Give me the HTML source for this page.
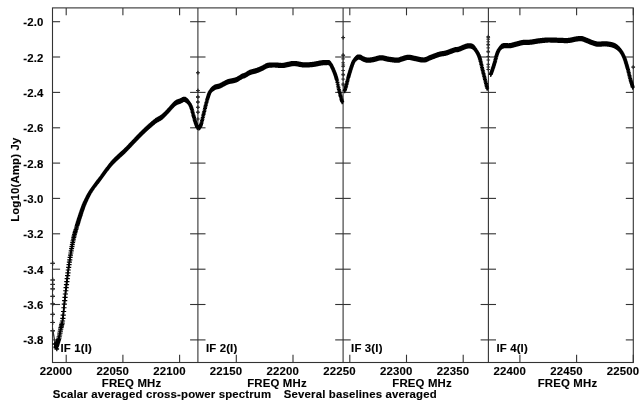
<!DOCTYPE html><html><head><meta charset="utf-8"><style>html,body{margin:0;padding:0;background:#fff;}svg{display:block;will-change:transform;}text{font-family:"Liberation Sans",sans-serif;font-weight:bold;fill:#000;stroke:#000;stroke-width:0.12px;letter-spacing:0.16px;}</style></head><body>
<svg width="639" height="405" viewBox="0 0 639 405">
<rect width="639" height="405" fill="#fff"/>
<g stroke="#333" stroke-width="1.10" fill="none"><rect x="52.5" y="7.9" width="580.8" height="354.6" fill="none"/><line x1="197.9" y1="7.9" x2="197.9" y2="362.5"/><line x1="343.1" y1="7.9" x2="343.1" y2="362.5"/><line x1="488.4" y1="7.9" x2="488.4" y2="362.5"/><line x1="66.2" y1="362.5" x2="66.2" y2="354.7"/><line x1="66.2" y1="7.9" x2="66.2" y2="15.3"/><line x1="122.9" y1="362.5" x2="122.9" y2="354.7"/><line x1="122.9" y1="7.9" x2="122.9" y2="15.3"/><line x1="179.6" y1="362.5" x2="179.6" y2="354.7"/><line x1="179.6" y1="7.9" x2="179.6" y2="15.3"/><line x1="236.3" y1="362.5" x2="236.3" y2="354.7"/><line x1="236.3" y1="7.9" x2="236.3" y2="15.3"/><line x1="293.0" y1="362.5" x2="293.0" y2="354.7"/><line x1="293.0" y1="7.9" x2="293.0" y2="15.3"/><line x1="349.8" y1="362.5" x2="349.8" y2="354.7"/><line x1="349.8" y1="7.9" x2="349.8" y2="15.3"/><line x1="406.5" y1="362.5" x2="406.5" y2="354.7"/><line x1="406.5" y1="7.9" x2="406.5" y2="15.3"/><line x1="463.2" y1="362.5" x2="463.2" y2="354.7"/><line x1="463.2" y1="7.9" x2="463.2" y2="15.3"/><line x1="519.9" y1="362.5" x2="519.9" y2="354.7"/><line x1="519.9" y1="7.9" x2="519.9" y2="15.3"/><line x1="576.6" y1="362.5" x2="576.6" y2="354.7"/><line x1="576.6" y1="7.9" x2="576.6" y2="15.3"/><line x1="633.3" y1="362.5" x2="633.3" y2="354.7"/><line x1="633.3" y1="7.9" x2="633.3" y2="15.3"/><line x1="52.5" y1="21.7" x2="60.1" y2="21.7"/><line x1="190.1" y1="21.7" x2="205.5" y2="21.7"/><line x1="335.2" y1="21.7" x2="350.7" y2="21.7"/><line x1="480.6" y1="21.7" x2="496.0" y2="21.7"/><line x1="625.8" y1="21.7" x2="633.2" y2="21.7"/><line x1="52.5" y1="57.0" x2="60.1" y2="57.0"/><line x1="190.1" y1="57.0" x2="205.5" y2="57.0"/><line x1="335.2" y1="57.0" x2="350.7" y2="57.0"/><line x1="480.6" y1="57.0" x2="496.0" y2="57.0"/><line x1="625.8" y1="57.0" x2="633.2" y2="57.0"/><line x1="52.5" y1="92.4" x2="60.1" y2="92.4"/><line x1="190.1" y1="92.4" x2="205.5" y2="92.4"/><line x1="335.2" y1="92.4" x2="350.7" y2="92.4"/><line x1="480.6" y1="92.4" x2="496.0" y2="92.4"/><line x1="625.8" y1="92.4" x2="633.2" y2="92.4"/><line x1="52.5" y1="127.8" x2="60.1" y2="127.8"/><line x1="190.1" y1="127.8" x2="205.5" y2="127.8"/><line x1="335.2" y1="127.8" x2="350.7" y2="127.8"/><line x1="480.6" y1="127.8" x2="496.0" y2="127.8"/><line x1="625.8" y1="127.8" x2="633.2" y2="127.8"/><line x1="52.5" y1="163.1" x2="60.1" y2="163.1"/><line x1="190.1" y1="163.1" x2="205.5" y2="163.1"/><line x1="335.2" y1="163.1" x2="350.7" y2="163.1"/><line x1="480.6" y1="163.1" x2="496.0" y2="163.1"/><line x1="625.8" y1="163.1" x2="633.2" y2="163.1"/><line x1="52.5" y1="198.4" x2="60.1" y2="198.4"/><line x1="190.1" y1="198.4" x2="205.5" y2="198.4"/><line x1="335.2" y1="198.4" x2="350.7" y2="198.4"/><line x1="480.6" y1="198.4" x2="496.0" y2="198.4"/><line x1="625.8" y1="198.4" x2="633.2" y2="198.4"/><line x1="52.5" y1="233.8" x2="60.1" y2="233.8"/><line x1="190.1" y1="233.8" x2="205.5" y2="233.8"/><line x1="335.2" y1="233.8" x2="350.7" y2="233.8"/><line x1="480.6" y1="233.8" x2="496.0" y2="233.8"/><line x1="625.8" y1="233.8" x2="633.2" y2="233.8"/><line x1="52.5" y1="269.2" x2="60.1" y2="269.2"/><line x1="190.1" y1="269.2" x2="205.5" y2="269.2"/><line x1="335.2" y1="269.2" x2="350.7" y2="269.2"/><line x1="480.6" y1="269.2" x2="496.0" y2="269.2"/><line x1="625.8" y1="269.2" x2="633.2" y2="269.2"/><line x1="52.5" y1="304.5" x2="60.1" y2="304.5"/><line x1="190.1" y1="304.5" x2="205.5" y2="304.5"/><line x1="335.2" y1="304.5" x2="350.7" y2="304.5"/><line x1="480.6" y1="304.5" x2="496.0" y2="304.5"/><line x1="625.8" y1="304.5" x2="633.2" y2="304.5"/><line x1="52.5" y1="339.9" x2="60.1" y2="339.9"/><line x1="190.1" y1="339.9" x2="205.5" y2="339.9"/><line x1="335.2" y1="339.9" x2="350.7" y2="339.9"/><line x1="480.6" y1="339.9" x2="496.0" y2="339.9"/><line x1="625.8" y1="339.9" x2="633.2" y2="339.9"/></g>
<path d="M53,331 L55.5,346" stroke="#333" stroke-width="1.3" fill="none"/>
<path d="M52.5,344h4.6M54.8,341.7v4.6M53.5,347.5h4.6M55.8,345.2v4.6M54.5,349h4.6M56.8,346.7v4.6" stroke="#000" stroke-width="1.3" fill="none"/>
<g stroke="#000" stroke-width="1.8" fill="none" stroke-linejoin="round" stroke-linecap="round"><path d="M56.00,347.70 C56.22,346.97 56.78,345.03 57.30,343.30 C57.82,341.57 58.52,339.75 59.10,337.30 C59.68,334.85 60.21,331.48 60.80,328.60 C61.39,325.72 62.03,324.38 62.65,320.00 C63.27,315.62 63.87,308.13 64.50,302.30 C65.13,296.47 65.63,291.68 66.45,285.00 C67.27,278.32 68.28,269.70 69.40,262.20 C70.53,254.70 72.05,245.65 73.20,240.00 C74.35,234.35 75.22,232.10 76.30,228.30 C77.38,224.50 78.58,220.68 79.70,217.20 C80.82,213.72 81.97,210.18 83.00,207.40 C84.03,204.62 84.73,202.97 85.90,200.50 C87.07,198.03 88.48,195.13 90.00,192.60 C91.52,190.07 93.33,187.58 95.00,185.30 C96.67,183.02 98.17,181.35 100.00,178.90 C101.83,176.45 104.00,173.25 106.00,170.60 C108.00,167.95 109.92,165.33 112.00,163.00 C114.08,160.67 116.33,158.67 118.50,156.60 C120.67,154.53 122.67,152.90 125.00,150.60 C127.33,148.30 130.00,145.40 132.50,142.80 C135.00,140.20 137.50,137.50 140.00,135.00 C142.50,132.50 144.92,130.13 147.50,127.80 C150.08,125.47 153.10,122.80 155.50,121.00 C157.90,119.20 159.83,118.65 161.90,117.00 C163.97,115.35 166.22,112.85 167.90,111.10 C169.58,109.35 170.67,107.88 172.00,106.50 C173.33,105.12 174.50,103.72 175.90,102.80 C177.30,101.88 178.97,101.58 180.40,101.00 C181.83,100.42 183.12,99.03 184.50,99.30 C185.88,99.57 187.57,101.22 188.70,102.60 C189.83,103.98 190.53,105.55 191.30,107.60 C192.07,109.65 192.62,112.47 193.30,114.90 C193.98,117.33 194.70,120.03 195.40,122.20 C196.10,124.37 197.15,126.95 197.50,127.90"/><path d="M198.60,128.20 C198.97,127.70 199.92,127.75 200.80,125.20 C201.68,122.65 202.87,117.02 203.90,112.90 C204.93,108.78 205.98,104.00 207.00,100.50 C208.02,97.00 208.77,94.05 210.00,91.90 C211.23,89.75 212.80,88.58 214.40,87.60 C216.00,86.62 218.02,86.63 219.60,86.00 C221.18,85.37 222.47,84.52 223.90,83.80 C225.33,83.08 226.77,82.20 228.20,81.70 C229.63,81.20 231.05,81.17 232.50,80.80 C233.95,80.43 235.32,80.23 236.90,79.50 C238.48,78.77 240.67,77.08 242.00,76.40 C243.33,75.72 243.58,76.05 244.90,75.40 C246.22,74.75 247.92,73.32 249.90,72.50 C251.88,71.68 254.67,71.25 256.80,70.50 C258.93,69.75 260.90,68.83 262.70,68.00 C264.50,67.17 265.62,66.00 267.60,65.50 C269.58,65.00 272.13,65.00 274.60,65.00 C277.07,65.00 280.27,65.57 282.40,65.50 C284.53,65.43 285.40,64.93 287.40,64.60 C289.40,64.27 291.67,63.45 294.40,63.50 C297.13,63.55 300.67,64.75 303.80,64.90 C306.93,65.05 310.38,64.72 313.20,64.40 C316.02,64.08 318.67,63.30 320.70,63.00 C322.73,62.70 323.93,62.60 325.40,62.60 C326.87,62.60 328.35,62.18 329.50,63.00 C330.65,63.82 331.38,65.67 332.30,67.50 C333.22,69.33 334.22,71.83 335.00,74.00 C335.78,76.17 336.33,77.83 337.00,80.50 C337.67,83.17 338.08,86.25 339.00,90.00 C339.92,93.75 341.92,100.83 342.50,103.00"/><path d="M344.60,91.00 C344.92,89.92 345.88,86.75 346.50,84.50 C347.12,82.25 347.50,80.33 348.30,77.50 C349.10,74.67 350.42,70.17 351.30,67.50 C352.18,64.83 352.77,63.05 353.60,61.50 C354.43,59.95 355.48,58.95 356.30,58.20 C357.12,57.45 357.72,57.10 358.50,57.00 C359.28,56.90 360.22,57.28 361.00,57.60 C361.78,57.92 362.10,58.47 363.20,58.90 C364.30,59.33 365.87,60.10 367.60,60.20 C369.33,60.30 371.37,59.90 373.60,59.50 C375.83,59.10 378.53,57.85 381.00,57.80 C383.47,57.75 385.68,58.80 388.40,59.20 C391.12,59.60 395.08,60.23 397.30,60.20 C399.52,60.17 399.87,59.48 401.70,59.00 C403.53,58.52 406.08,57.38 408.30,57.30 C410.52,57.22 412.40,58.05 415.00,58.50 C417.60,58.95 421.30,60.17 423.90,60.00 C426.50,59.83 428.02,58.45 430.60,57.50 C433.18,56.55 436.82,55.05 439.40,54.30 C441.98,53.55 443.50,53.75 446.10,53.00 C448.70,52.25 452.92,50.42 455.00,49.80 C457.08,49.18 456.55,49.93 458.60,49.30 C460.65,48.67 464.98,46.45 467.30,46.00 C469.62,45.55 471.05,45.85 472.50,46.60 C473.95,47.35 474.83,48.70 476.00,50.50 C477.17,52.30 478.35,53.95 479.50,57.40 C480.65,60.85 481.90,67.18 482.90,71.20 C483.90,75.22 484.75,78.48 485.50,81.50 C486.25,84.52 487.08,88.00 487.40,89.30"/><path d="M490.70,74.60 C491.27,72.93 492.98,68.20 494.10,64.60 C495.22,61.00 496.33,55.80 497.40,53.00 C498.47,50.20 499.43,49.02 500.50,47.80 C501.57,46.58 502.27,46.05 503.80,45.70 C505.33,45.35 507.73,45.93 509.70,45.70 C511.67,45.47 513.38,44.83 515.60,44.30 C517.82,43.77 520.53,42.85 523.00,42.50 C525.47,42.15 527.92,42.45 530.40,42.20 C532.88,41.95 535.42,41.33 537.90,41.00 C540.38,40.67 543.38,40.37 545.30,40.20 C547.22,40.03 547.15,39.98 549.40,40.00 C551.65,40.02 555.67,40.22 558.80,40.30 C561.93,40.38 565.38,40.70 568.20,40.50 C571.02,40.30 573.52,39.42 575.70,39.10 C577.88,38.78 579.43,38.37 581.30,38.60 C583.17,38.83 585.02,39.80 586.90,40.50 C588.78,41.20 590.72,42.18 592.60,42.80 C594.48,43.42 596.07,44.03 598.20,44.20 C600.33,44.37 602.77,43.58 605.40,43.80 C608.03,44.02 611.57,44.43 614.00,45.50 C616.43,46.57 618.28,48.15 620.00,50.20 C621.72,52.25 623.00,54.67 624.30,57.80 C625.60,60.93 626.82,65.53 627.80,69.00 C628.78,72.47 629.33,75.43 630.20,78.60 C631.07,81.77 632.53,86.43 633.00,88.00"/></g>
<path stroke="#000" stroke-width="1.2" fill="none" d="M53.72,346.62h5.2M56.32,344.02v5.2M54.08,345.39h5.2M56.68,342.79v5.2M54.44,344.16h5.2M57.04,341.56v5.2M54.81,342.95h5.2M57.41,340.35v5.2M55.17,341.81h5.2M57.77,339.21v5.2M55.53,340.70h5.2M58.13,338.10v5.2M55.90,339.53h5.2M58.50,336.93v5.2M56.26,338.25h5.2M58.86,335.65v5.2M56.62,336.76h5.2M59.22,334.16v5.2M56.99,335.01h5.2M59.59,332.41v5.2M57.35,333.09h5.2M59.95,330.49v5.2M57.72,331.11h5.2M60.32,328.51v5.2M58.08,329.20h5.2M60.68,326.60v5.2M58.44,327.51h5.2M61.04,324.91v5.2M58.81,326.06h5.2M61.41,323.46v5.2M59.17,324.65h5.2M61.77,322.05v5.2M59.53,323.04h5.2M62.13,320.44v5.2M59.90,321.02h5.2M62.50,318.42v5.2M60.26,318.39h5.2M62.86,315.79v5.2M60.62,315.14h5.2M63.22,312.54v5.2M60.99,311.51h5.2M63.59,308.91v5.2M61.35,307.74h5.2M63.95,305.14v5.2M61.71,304.07h5.2M64.31,301.47v5.2M62.08,300.66h5.2M64.68,298.06v5.2M62.44,297.30h5.2M65.04,294.70v5.2M62.80,293.99h5.2M65.40,291.39v5.2M63.17,290.76h5.2M65.77,288.16v5.2M63.53,287.65h5.2M66.13,285.05v5.2M63.89,284.63h5.2M66.49,282.03v5.2M64.26,281.64h5.2M66.86,279.04v5.2M64.63,278.65h5.2M67.22,276.05v5.2M65.00,275.70h5.2M67.59,273.10v5.2M65.37,272.81h5.2M67.95,270.21v5.2M65.74,269.99h5.1M68.31,267.39v5.2M66.12,267.28h5.1M68.68,264.68v5.2M66.49,264.67h5.1M69.04,262.07v5.2M66.86,262.18h5.1M69.40,259.58v5.2M67.23,259.80h5.1M69.77,257.20v5.2M67.60,257.47h5.0M70.13,254.87v5.2M67.98,255.20h5.0M70.49,252.60v5.2M68.35,252.99h5.0M70.86,250.39v5.2M68.72,250.82h5.0M71.22,248.22v5.2M69.09,248.70h5.0M71.58,246.10v5.2M69.47,246.64h5.0M71.95,244.04v5.2M69.84,244.63h4.9M72.31,242.03v5.2M70.21,242.68h4.9M72.67,240.08v5.2M70.58,240.81h4.9M73.04,238.21v5.2M70.95,239.03h4.9M73.40,236.43v5.2M71.33,237.39h4.9M73.76,234.79v5.2M71.70,235.88h4.9M74.13,233.28v5.2M72.07,234.48h4.8M74.49,231.88v5.2M72.44,233.18h4.8M74.86,230.58v5.2M72.82,231.94h4.8M75.22,229.34v5.2M73.19,230.73h4.8M75.58,228.13v5.2M73.56,229.52h4.8M75.95,226.92v5.2M73.93,228.27h4.8M76.31,225.67v5.2M74.30,227.01h4.7M76.67,224.41v5.2M74.68,225.77h4.7M77.04,223.17v5.2M75.05,224.56h4.7M77.40,221.96v5.2M75.42,223.36h4.7M77.76,220.76v5.2M75.79,222.18h4.7M78.13,219.58v5.2M76.17,221.01h4.6M78.49,218.41v5.2M76.54,219.86h4.6M78.85,217.26v5.2M76.91,218.71h4.6M79.22,216.11v5.2M77.28,217.57h4.6M79.58,214.97v5.2M77.65,216.44h4.6M79.94,213.84v5.2M78.03,215.31h4.6M80.31,212.71v5.2M78.40,214.19h4.5M80.67,211.59v5.2M78.77,213.08h4.5M81.03,210.48v5.2M79.14,211.99h4.5M81.40,209.39v5.2M79.52,210.91h4.5M81.76,208.31v5.2M79.89,209.85h4.5M82.13,207.25v5.2M80.26,208.81h4.5M82.49,206.21v5.2M80.63,207.80h4.4M82.85,205.20v5.2M81.00,206.82h4.4M83.22,204.22v5.2M81.38,205.87h4.4M83.58,203.27v5.2M81.75,204.95h4.4M83.94,202.35v5.2M82.12,204.06h4.4M84.31,201.46v5.2M82.49,203.20h4.4M84.67,200.60v5.2M82.87,202.38h4.3M85.03,199.78v5.2M83.24,201.58h4.3M85.40,198.98v5.2M83.61,200.80h4.3M85.76,198.20v5.2M83.98,200.03h4.3M86.12,197.43v5.2M84.35,199.27h4.3M86.49,196.67v5.2M84.73,198.52h4.2M86.85,195.92v5.2M85.10,197.78h4.2M87.21,195.18v5.2M85.47,197.05h4.2M87.58,194.45v5.2M85.84,196.34h4.2M87.94,193.74v5.2M86.22,195.64h4.2M88.30,193.04v5.2M86.59,194.95h4.2M88.67,192.35v5.2M86.96,194.29h4.1M89.03,191.69v5.2M87.33,193.64h4.1M89.40,191.04v5.2M87.70,193.01h4.1M89.76,190.41v5.2M88.08,192.40h4.1M90.12,189.80v5.2M88.45,191.81h4.1M90.49,189.21v5.2M88.82,191.23h4.1M90.85,188.63v5.2M89.19,190.67h4.0M91.21,188.07v5.2M89.57,190.12h4.0M91.58,187.52v5.2M89.94,189.59h4.0M91.94,186.99v5.2M90.30,189.06h4.0M92.30,186.46v5.2M90.67,188.54h4.0M92.67,185.94v5.2M91.03,188.02h4.0M93.03,185.42v5.2M91.39,187.51h4.0M93.39,184.91v5.2M91.76,187.01h4.0M93.76,184.41v5.2M92.12,186.51h4.0M94.12,183.91v5.2M92.48,186.01h4.0M94.48,183.41v5.2M92.85,185.51h4.0M94.85,182.91v5.2M93.21,185.01h4.0M95.21,182.41v5.2M93.57,184.53h4.0M95.57,181.93v5.2M93.94,184.05h4.0M95.94,181.45v5.2M94.30,183.59h4.0M96.30,180.99v5.2M94.67,183.13h4.0M96.67,180.53v5.2M95.03,182.67h4.0M97.03,180.07v5.2M95.39,182.22h4.0M97.39,179.62v5.2M95.76,181.77h4.0M97.76,179.17v5.2M96.12,181.32h4.0M98.12,178.72v5.2M96.48,180.86h4.0M98.48,178.26v5.2M96.85,180.40h4.0M98.85,177.80v5.2M97.21,179.94h4.0M99.21,177.34v5.2M97.57,179.46h4.0M99.57,176.86v5.2M97.94,178.98h4.0M99.94,176.38v5.2M98.30,178.50h4.0M100.30,175.90v5.2M98.66,178.00h4.0M100.66,175.40v5.2M99.03,177.50h4.0M101.03,174.90v5.2M99.39,177.00h4.0M101.39,174.40v5.2M99.75,176.49h4.0M101.75,173.89v5.2M100.12,175.98h4.0M102.12,173.38v5.2M100.48,175.47h4.0M102.48,172.87v5.2M100.84,174.96h4.0M102.84,172.36v5.2M101.21,174.44h4.0M103.21,171.84v5.2M101.57,173.93h4.0M103.57,171.33v5.2M101.94,173.42h4.0M103.94,170.82v5.2M102.30,172.92h4.0M104.30,170.32v5.2M102.66,172.41h4.0M104.66,169.81v5.2M103.03,171.91h4.0M105.03,169.31v5.2M103.39,171.42h4.0M105.39,168.82v5.2M103.75,170.93h4.0M105.75,168.33v5.2M104.12,170.45h4.0M106.12,167.85v5.2M104.48,169.96h4.0M106.48,167.36v5.2M104.84,169.48h4.0M106.84,166.88v5.2M105.21,169.00h4.0M107.21,166.40v5.2M105.57,168.51h4.0M107.57,165.91v5.2M105.93,168.03h4.0M107.93,165.43v5.2M106.30,167.56h4.0M108.30,164.96v5.2M106.66,167.08h4.0M108.66,164.48v5.2M107.02,166.61h4.0M109.02,164.01v5.2M107.39,166.14h4.0M109.39,163.54v5.2M107.75,165.68h4.0M109.75,163.08v5.2M108.11,165.23h4.0M110.11,162.63v5.2M108.48,164.78h4.0M110.48,162.18v5.2M108.84,164.34h4.0M110.84,161.74v5.2M109.21,163.91h4.0M111.21,161.31v5.2M109.57,163.49h4.0M111.57,160.89v5.2M109.93,163.08h4.0M111.93,160.48v5.2M110.30,162.67h4.0M112.30,160.07v5.2M110.66,162.28h4.0M112.66,159.68v5.2M111.02,161.89h4.0M113.02,159.29v5.2M111.39,161.52h4.0M113.39,158.92v5.2M111.75,161.14h4.0M113.75,158.54v5.2M112.11,160.78h4.0M114.11,158.18v5.2M112.48,160.42h4.0M114.48,157.82v5.2M112.84,160.07h4.0M114.84,157.47v5.2M113.20,159.71h4.0M115.20,157.11v5.2M113.57,159.37h4.0M115.57,156.77v5.2M113.93,159.02h4.0M115.93,156.42v5.2M114.29,158.68h4.0M116.29,156.08v5.2M114.66,158.34h4.0M116.66,155.74v5.2M115.02,158.00h4.0M117.02,155.40v5.2M115.38,157.65h4.0M117.38,155.05v5.2M115.75,157.31h4.0M117.75,154.71v5.2M116.11,156.97h4.0M118.11,154.37v5.2M116.48,156.62h4.0M118.48,154.02v5.2M116.84,156.28h4.0M118.84,153.68v5.2M117.20,155.94h4.0M119.20,153.34v5.2M117.57,155.60h4.0M119.57,153.00v5.2M117.93,155.27h4.0M119.93,152.67v5.2M118.29,154.94h4.0M120.29,152.34v5.2M118.66,154.61h4.0M120.66,152.01v5.2M119.02,154.29h4.0M121.02,151.69v5.2M119.38,153.96h4.0M121.38,151.36v5.2M119.75,153.63h4.0M121.75,151.03v5.2M120.11,153.31h4.0M122.11,150.71v5.2M120.47,152.98h4.0M122.47,150.38v5.2M120.84,152.65h4.0M122.84,150.05v5.2M121.20,152.31h4.0M123.20,149.71v5.2M121.56,151.98h4.0M123.56,149.38v5.2M121.93,151.63h4.0M123.93,149.03v5.2M122.29,151.29h4.0M124.29,148.69v5.2M122.65,150.94h4.0M124.65,148.34v5.2M123.02,150.58h4.0M125.02,147.98v5.2M123.38,150.22h4.0M125.38,147.62v5.2M123.75,149.86h4.0M125.75,147.26v5.2M124.11,149.49h4.0M126.11,146.89v5.2M124.47,149.12h4.0M126.47,146.52v5.2M124.84,148.74h4.0M126.84,146.14v5.2M125.20,148.37h4.0M127.20,145.77v5.2M125.56,147.99h4.0M127.56,145.39v5.2M125.93,147.61h4.0M127.93,145.01v5.2M126.29,147.23h4.0M128.29,144.63v5.2M126.65,146.85h4.0M128.65,144.25v5.2M127.02,146.47h4.0M129.02,143.87v5.2M127.38,146.08h4.0M129.38,143.48v5.2M127.74,145.70h4.0M129.74,143.10v5.2M128.11,145.31h4.0M130.11,142.71v5.2M128.47,144.93h4.0M130.47,142.33v5.2M128.83,144.55h4.0M130.83,141.95v5.2M129.20,144.16h4.0M131.20,141.56v5.2M129.56,143.78h4.0M131.56,141.18v5.2M129.92,143.40h4.0M131.92,140.80v5.2M130.29,143.02h4.0M132.29,140.42v5.2M130.65,142.64h4.0M132.65,140.04v5.2M131.02,142.26h4.0M133.02,139.66v5.2M131.38,141.88h4.0M133.38,139.28v5.2M131.74,141.50h4.0M133.74,138.90v5.2M132.11,141.12h4.0M134.11,138.52v5.2M132.47,140.74h4.0M134.47,138.14v5.2M132.83,140.35h4.0M134.83,137.75v5.2M133.20,139.97h4.0M135.20,137.37v5.2M133.56,139.59h4.0M135.56,136.99v5.2M133.92,139.21h4.0M135.92,136.61v5.2M134.29,138.82h4.0M136.29,136.22v5.2M134.65,138.44h4.0M136.65,135.84v5.2M135.01,138.06h4.0M137.01,135.46v5.2M135.38,137.68h4.0M137.38,135.08v5.2M135.74,137.31h4.0M137.74,134.71v5.2M136.10,136.93h4.0M138.10,134.33v5.2M136.47,136.55h4.0M138.47,133.95v5.2M136.83,136.18h4.0M138.83,133.58v5.2M137.19,135.81h4.0M139.19,133.21v5.2M137.56,135.44h4.0M139.56,132.84v5.2M137.92,135.08h4.0M139.92,132.48v5.2M138.29,134.72h4.0M140.29,132.12v5.2M138.65,134.35h4.0M140.65,131.75v5.2M139.01,133.99h4.0M141.01,131.39v5.2M139.38,133.63h4.0M141.38,131.03v5.2M139.74,133.27h4.0M141.74,130.67v5.2M140.10,132.91h4.0M142.10,130.31v5.2M140.47,132.56h4.0M142.47,129.96v5.2M140.83,132.20h4.0M142.83,129.60v5.2M141.19,131.85h4.0M143.19,129.25v5.2M141.56,131.49h4.0M143.56,128.89v5.2M141.92,131.14h4.0M143.92,128.54v5.2M142.28,130.79h4.0M144.28,128.19v5.2M142.65,130.45h4.0M144.65,127.85v5.2M143.01,130.10h4.0M145.01,127.50v5.2M143.37,129.76h4.0M145.37,127.16v5.2M143.74,129.42h4.0M145.74,126.82v5.2M144.10,129.08h4.0M146.10,126.48v5.2M144.46,128.75h4.0M146.46,126.15v5.2M144.83,128.41h4.0M146.83,125.81v5.2M145.19,128.08h4.0M147.19,125.48v5.2M145.56,127.75h4.0M147.56,125.15v5.2M145.92,127.42h4.0M147.92,124.82v5.2M146.28,127.10h4.0M148.28,124.50v5.2M146.65,126.77h4.0M148.65,124.17v5.2M147.01,126.44h4.0M149.01,123.84v5.2M147.37,126.12h4.0M149.37,123.52v5.2M147.74,125.80h4.0M149.74,123.20v5.2M148.10,125.48h4.0M150.10,122.88v5.2M148.46,125.16h4.0M150.46,122.56v5.2M148.83,124.84h4.0M150.83,122.24v5.2M149.19,124.53h4.0M151.19,121.93v5.2M149.55,124.21h4.0M151.55,121.61v5.2M149.92,123.90h4.0M151.92,121.30v5.2M150.28,123.59h4.0M152.28,120.99v5.2M150.64,123.29h4.0M152.64,120.69v5.2M151.01,122.98h4.0M153.01,120.38v5.2M151.37,122.68h4.0M153.37,120.08v5.2M151.73,122.39h4.0M153.73,119.79v5.2M152.10,122.09h4.0M154.10,119.49v5.2M152.46,121.80h4.0M154.46,119.20v5.2M152.83,121.52h4.0M154.83,118.92v5.2M153.19,121.24h4.0M155.19,118.64v5.2M153.55,120.96h4.0M155.55,118.36v5.2M153.92,120.70h4.0M155.92,118.10v5.2M154.28,120.45h4.0M156.28,117.85v5.2M154.64,120.21h4.0M156.64,117.61v5.2M155.01,119.98h4.0M157.01,117.38v5.2M155.37,119.76h4.0M157.37,117.16v5.2M155.73,119.55h4.0M157.73,116.95v5.2M156.10,119.34h4.0M158.10,116.74v5.2M156.46,119.14h4.0M158.46,116.54v5.2M156.82,118.94h4.0M158.82,116.34v5.2M157.19,118.75h4.0M159.19,116.15v5.2M157.55,118.54h4.0M159.55,115.94v5.2M157.91,118.34h4.0M159.91,115.74v5.2M158.28,118.12h4.0M160.28,115.52v5.2M158.64,117.90h4.0M160.64,115.30v5.2M159.00,117.66h4.0M161.00,115.06v5.2M159.37,117.40h4.0M161.37,114.80v5.2M159.73,117.13h4.0M161.73,114.53v5.2M160.10,116.84h4.0M162.10,114.24v5.2M160.46,116.54h4.0M162.46,113.94v5.2M160.82,116.22h4.0M162.82,113.62v5.2M161.19,115.89h4.0M163.19,113.29v5.2M161.55,115.56h4.0M163.55,112.96v5.2M161.91,115.21h4.0M163.91,112.61v5.2M162.28,114.86h4.0M164.28,112.26v5.2M162.64,114.50h4.0M164.64,111.90v5.2M163.00,114.13h4.0M165.00,111.53v5.2M163.37,113.76h4.0M165.37,111.16v5.2M163.73,113.38h4.0M165.73,110.78v5.2M164.09,113.00h4.0M166.09,110.40v5.2M164.46,112.62h4.0M166.46,110.02v5.2M164.82,112.23h4.0M166.82,109.63v5.2M165.18,111.85h4.0M167.18,109.25v5.2M165.55,111.47h4.0M167.55,108.87v5.2M165.91,111.09h4.0M167.91,108.49v5.2M166.27,110.70h4.0M168.27,108.10v5.2M166.64,110.31h4.0M168.64,107.71v5.2M167.00,109.91h4.0M169.00,107.31v5.2M167.37,109.49h4.0M169.37,106.89v5.2M167.73,109.07h4.0M169.73,106.47v5.2M168.09,108.65h4.0M170.09,106.05v5.2M168.46,108.22h4.0M170.46,105.62v5.2M168.82,107.80h4.0M170.82,105.20v5.2M169.18,107.39h4.0M171.18,104.79v5.2M169.55,106.98h4.0M171.55,104.38v5.2M169.91,106.59h4.0M171.91,103.99v5.2M170.27,106.21h4.0M172.27,103.61v5.2M170.64,105.83h4.0M172.64,103.23v5.2M171.00,105.44h4.0M173.00,102.84v5.2M171.36,105.05h4.0M173.36,102.45v5.2M171.73,104.68h4.0M173.73,102.08v5.2M172.09,104.31h4.0M174.09,101.71v5.2M172.45,103.96h4.0M174.45,101.36v5.2M172.82,103.63h4.0M174.82,101.03v5.2M173.18,103.33h4.0M175.18,100.73v5.2M173.54,103.05h4.0M175.54,100.45v5.2M173.91,102.79h4.0M175.91,100.19v5.2M174.27,102.57h4.0M176.27,99.97v5.2M174.64,102.38h4.0M176.64,99.78v5.2M175.00,102.21h4.0M177.00,99.61v5.2M175.36,102.06h4.0M177.36,99.46v5.2M175.73,101.92h4.0M177.73,99.32v5.2M176.09,101.79h4.0M178.09,99.19v5.2M176.45,101.67h4.0M178.45,99.07v5.2M176.82,101.55h4.0M178.82,98.95v5.2M177.18,101.43h4.0M179.18,98.83v5.2M177.54,101.31h4.0M179.54,98.71v5.2M177.91,101.19h4.0M179.91,98.59v5.2M178.27,101.05h4.0M180.27,98.45v5.2M178.63,100.90h4.0M180.63,98.30v5.2M179.00,100.71h4.0M181.00,98.11v5.2M179.36,100.50h4.0M181.36,97.90v5.2M179.72,100.28h4.0M181.72,97.68v5.2M180.09,100.06h4.0M182.09,97.46v5.2M180.45,99.84h4.0M182.45,97.24v5.2M180.81,99.64h4.0M182.81,97.04v5.2M181.18,99.48h4.0M183.18,96.88v5.2M181.54,99.35h4.0M183.54,96.75v5.2M181.91,99.28h4.0M183.91,96.68v5.2M182.27,99.27h4.0M184.27,96.67v5.2M182.63,99.33h4.0M184.63,96.73v5.2M183.00,99.45h4.0M185.00,96.85v5.2M183.36,99.61h4.0M185.36,97.01v5.2M183.72,99.82h4.0M185.72,97.22v5.2M184.09,100.06h4.0M186.09,97.46v5.2M184.45,100.33h4.0M186.45,97.73v5.2M184.81,100.63h4.0M186.81,98.03v5.2M185.18,100.96h4.0M187.18,98.36v5.2M185.54,101.31h4.0M187.54,98.71v5.2M185.90,101.69h4.0M187.90,99.09v5.2M186.27,102.09h4.0M188.27,99.49v5.2M186.63,102.52h4.0M188.63,99.92v5.2M186.99,102.98h4.0M188.99,100.38v5.2M187.36,103.49h4.0M189.36,100.89v5.2M187.72,104.08h4.0M189.72,101.48v5.2M188.08,104.75h4.0M190.08,102.15v5.2M188.45,105.50h4.0M190.45,102.90v5.2M188.81,106.35h4.0M190.81,103.75v5.2M189.18,107.27h4.0M191.18,104.67v5.2M189.54,108.28h4.0M191.54,105.68v5.2M189.90,109.48h4.0M191.90,106.88v5.2M190.27,110.85h4.0M192.27,108.25v5.2M190.63,112.30h4.0M192.63,109.70v5.2M190.99,113.75h4.0M192.99,111.15v5.2M191.36,115.10h4.0M193.36,112.50v5.2M191.72,116.41h4.0M193.72,113.81v5.2M192.08,117.72h4.0M194.08,115.12v5.2M192.45,119.01h4.0M194.45,116.41v5.2M192.81,120.28h4.0M194.81,117.68v5.2M193.17,121.48h4.0M195.17,118.88v5.2M193.54,122.62h4.0M195.54,120.02v5.2M193.90,123.67h4.0M195.90,121.07v5.2M194.26,124.66h4.0M196.26,122.06v5.2M194.63,125.63h4.0M196.63,123.03v5.2M194.99,126.57h4.0M196.99,123.97v5.2M195.35,127.52h4.0M197.35,124.92v5.2M196.81,128.00h4.0M198.81,125.40v5.2M197.17,127.74h4.0M199.17,125.14v5.2M197.53,127.44h4.0M199.53,124.84v5.2M197.90,127.03h4.0M199.90,124.43v5.2M198.26,126.46h4.0M200.26,123.86v5.2M198.62,125.67h4.0M200.62,123.07v5.2M198.98,124.63h4.0M200.98,122.03v5.2M199.35,123.39h4.0M201.35,120.79v5.2M199.71,122.01h4.0M201.71,119.41v5.2M200.07,120.55h4.0M202.07,117.95v5.2M200.44,119.04h4.0M202.44,116.44v5.2M200.80,117.50h4.0M202.80,114.90v5.2M201.16,115.96h4.0M203.16,113.36v5.2M201.52,114.43h4.0M203.52,111.83v5.2M201.89,112.95h4.0M203.89,110.35v5.2M202.25,111.48h4.0M204.25,108.88v5.2M202.61,109.98h4.0M204.61,107.38v5.2M202.98,108.47h4.0M204.98,105.87v5.2M203.34,106.96h4.0M205.34,104.36v5.2M203.70,105.46h4.0M205.70,102.86v5.2M204.06,103.99h4.0M206.06,101.39v5.2M204.43,102.58h4.0M206.43,99.98v5.2M204.79,101.24h4.0M206.79,98.64v5.2M205.15,99.97h4.0M207.15,97.37v5.2M205.52,98.70h4.0M207.52,96.10v5.2M205.88,97.45h4.0M207.88,94.85v5.2M206.24,96.25h4.0M208.24,93.65v5.2M206.60,95.14h4.0M208.60,92.54v5.2M206.97,94.13h4.0M208.97,91.53v5.2M207.33,93.24h4.0M209.33,90.64v5.2M207.69,92.47h4.0M209.69,89.87v5.2M208.06,91.81h4.0M210.06,89.21v5.2M208.42,91.23h4.0M210.42,88.63v5.2M208.78,90.72h4.0M210.78,88.12v5.2M209.14,90.27h4.0M211.14,87.67v5.2M209.51,89.86h4.0M211.51,87.26v5.2M209.87,89.49h4.0M211.87,86.89v5.2M210.23,89.16h4.0M212.23,86.56v5.2M210.60,88.85h4.0M212.60,86.25v5.2M210.96,88.57h4.0M212.96,85.97v5.2M211.32,88.31h4.0M213.32,85.71v5.2M211.69,88.06h4.0M213.69,85.46v5.2M212.05,87.82h4.0M214.05,85.22v5.2M212.41,87.59h4.0M214.41,84.99v5.2M212.77,87.39h4.0M214.77,84.79v5.2M213.14,87.22h4.0M215.14,84.62v5.2M213.50,87.08h4.0M215.50,84.48v5.2M213.86,86.96h4.0M215.86,84.36v5.2M214.23,86.86h4.0M216.23,84.26v5.2M214.59,86.77h4.0M216.59,84.17v5.2M214.95,86.68h4.0M216.95,84.08v5.2M215.31,86.60h4.0M217.31,84.00v5.2M215.68,86.53h4.0M217.68,83.93v5.2M216.04,86.45h4.0M218.04,83.85v5.2M216.40,86.36h4.0M218.40,83.76v5.2M216.77,86.27h4.0M218.77,83.67v5.2M217.13,86.17h4.0M219.13,83.57v5.2M217.49,86.04h4.0M219.49,83.44v5.2M217.85,85.90h4.0M219.85,83.30v5.2M218.22,85.74h4.0M220.22,83.14v5.2M218.58,85.57h4.0M220.58,82.97v5.2M218.94,85.39h4.0M220.94,82.79v5.2M219.31,85.20h4.0M221.31,82.60v5.2M219.67,85.01h4.0M221.67,82.41v5.2M220.03,84.81h4.0M222.03,82.21v5.2M220.39,84.61h4.0M222.39,82.01v5.2M220.76,84.41h4.0M222.76,81.81v5.2M221.12,84.21h4.0M223.12,81.61v5.2M221.48,84.01h4.0M223.48,81.41v5.2M221.85,83.83h4.0M223.85,81.23v5.2M222.21,83.64h4.0M224.21,81.04v5.2M222.57,83.45h4.0M224.57,80.85v5.2M222.93,83.26h4.0M224.93,80.66v5.2M223.30,83.07h4.0M225.30,80.47v5.2M223.66,82.87h4.0M225.66,80.27v5.2M224.02,82.68h4.0M226.02,80.08v5.2M224.39,82.50h4.0M226.39,79.90v5.2M224.75,82.32h4.0M226.75,79.72v5.2M225.11,82.14h4.0M227.11,79.54v5.2M225.47,81.98h4.0M227.47,79.38v5.2M225.84,81.83h4.0M227.84,79.23v5.2M226.20,81.70h4.0M228.20,79.10v5.2M226.56,81.58h4.0M228.56,78.98v5.2M226.93,81.48h4.0M228.93,78.88v5.2M227.29,81.40h4.0M229.29,78.80v5.2M227.65,81.32h4.0M229.65,78.72v5.2M228.01,81.26h4.0M230.01,78.66v5.2M228.38,81.19h4.0M230.38,78.59v5.2M228.74,81.14h4.0M230.74,78.54v5.2M229.10,81.08h4.0M231.10,78.48v5.2M229.47,81.02h4.0M231.47,78.42v5.2M229.83,80.95h4.0M231.83,78.35v5.2M230.19,80.87h4.0M232.19,78.27v5.2M230.55,80.79h4.0M232.55,78.19v5.2M230.92,80.70h4.0M232.92,78.10v5.2M231.28,80.61h4.0M233.28,78.01v5.2M231.64,80.53h4.0M233.64,77.93v5.2M232.01,80.45h4.0M234.01,77.85v5.2M232.37,80.36h4.0M234.37,77.76v5.2M232.73,80.27h4.0M234.73,77.67v5.2M233.09,80.17h4.0M235.09,77.57v5.2M233.46,80.06h4.0M235.46,77.46v5.2M233.82,79.94h4.0M235.82,77.34v5.2M234.18,79.80h4.0M236.18,77.20v5.2M234.55,79.66h4.0M236.55,77.06v5.2M234.91,79.50h4.0M236.91,76.90v5.2M235.27,79.32h4.0M237.27,76.72v5.2M235.63,79.12h4.0M237.63,76.52v5.2M236.00,78.91h4.0M238.00,76.31v5.2M236.36,78.69h4.0M238.36,76.09v5.2M236.72,78.46h4.0M238.72,75.86v5.2M237.09,78.23h4.0M239.09,75.63v5.2M237.45,77.99h4.0M239.45,75.39v5.2M237.81,77.75h4.0M239.81,75.15v5.2M238.17,77.52h4.0M240.17,74.92v5.2M238.54,77.28h4.0M240.54,74.68v5.2M238.90,77.05h4.0M240.90,74.45v5.2M239.26,76.82h4.0M241.26,74.22v5.2M239.63,76.60h4.0M241.63,74.00v5.2M239.99,76.41h4.0M241.99,73.81v5.2M240.35,76.23h4.0M242.35,73.63v5.2M240.72,76.09h4.0M242.72,73.49v5.2M241.08,75.97h4.0M243.08,73.37v5.2M241.44,75.89h4.0M243.44,73.29v5.2M241.80,75.81h4.0M243.80,73.21v5.2M242.17,75.71h4.0M244.17,73.11v5.2M242.53,75.57h4.0M244.53,72.97v5.2M242.89,75.40h4.0M244.89,72.80v5.2M243.26,75.21h4.0M245.26,72.61v5.2M243.62,75.00h4.0M245.62,72.40v5.2M243.98,74.77h4.0M245.98,72.17v5.2M244.34,74.54h4.0M246.34,71.94v5.2M244.71,74.30h4.0M246.71,71.70v5.2M245.07,74.06h4.0M247.07,71.46v5.2M245.43,73.83h4.0M247.43,71.23v5.2M245.80,73.60h4.0M247.80,71.00v5.2M246.16,73.39h4.0M248.16,70.79v5.2M246.52,73.18h4.0M248.52,70.58v5.2M246.88,72.98h4.0M248.88,70.38v5.2M247.25,72.80h4.0M249.25,70.20v5.2M247.61,72.62h4.0M249.61,70.02v5.2M247.97,72.47h4.0M249.97,69.87v5.2M248.34,72.33h4.0M250.34,69.73v5.2M248.70,72.20h4.0M250.70,69.60v5.2M249.06,72.09h4.0M251.06,69.49v5.2M249.42,71.98h4.0M251.42,69.38v5.2M249.79,71.87h4.0M251.79,69.27v5.2M250.15,71.77h4.0M252.15,69.17v5.2M250.51,71.67h4.0M252.51,69.07v5.2M250.88,71.58h4.0M252.88,68.98v5.2M251.24,71.49h4.0M253.24,68.89v5.2M251.60,71.40h4.0M253.60,68.80v5.2M251.96,71.31h4.0M253.96,68.71v5.2M252.33,71.22h4.0M254.33,68.62v5.2M252.69,71.12h4.0M254.69,68.52v5.2M253.05,71.03h4.0M255.05,68.43v5.2M253.42,70.93h4.0M255.42,68.33v5.2M253.78,70.82h4.0M255.78,68.22v5.2M254.14,70.72h4.0M256.14,68.12v5.2M254.50,70.60h4.0M256.50,68.00v5.2M254.87,70.48h4.0M256.87,67.88v5.2M255.23,70.35h4.0M257.23,67.75v5.2M255.59,70.21h4.0M257.59,67.61v5.2M255.96,70.07h4.0M257.96,67.47v5.2M256.32,69.93h4.0M258.32,67.33v5.2M256.68,69.78h4.0M258.68,67.18v5.2M257.04,69.63h4.0M259.04,67.03v5.2M257.41,69.48h4.0M259.41,66.88v5.2M257.77,69.33h4.0M259.77,66.73v5.2M258.13,69.17h4.0M260.13,66.57v5.2M258.50,69.01h4.0M260.50,66.41v5.2M258.86,68.85h4.0M260.86,66.25v5.2M259.22,68.68h4.0M261.22,66.08v5.2M259.58,68.52h4.0M261.58,65.92v5.2M259.95,68.35h4.0M261.95,65.75v5.2M260.31,68.18h4.0M262.31,65.58v5.2M260.67,68.01h4.0M262.67,65.41v5.2M261.04,67.84h4.0M263.04,65.24v5.2M261.40,67.64h4.0M263.40,65.04v5.2M261.76,67.44h4.0M263.76,64.84v5.2M262.12,67.22h4.0M264.12,64.62v5.2M262.49,66.99h4.0M264.49,64.39v5.2M262.85,66.77h4.0M264.85,64.17v5.2M263.21,66.55h4.0M265.21,63.95v5.2M263.58,66.33h4.0M265.58,63.73v5.2M263.94,66.14h4.0M265.94,63.54v5.2M264.30,65.96h4.0M266.30,63.36v5.2M264.66,65.81h4.0M266.66,63.21v5.2M265.03,65.67h4.0M267.03,63.07v5.2M265.39,65.56h4.0M267.39,62.96v5.2M265.75,65.46h4.0M267.75,62.86v5.2M266.12,65.38h4.0M268.12,62.78v5.2M266.48,65.32h4.0M268.48,62.72v5.2M266.84,65.26h4.0M268.84,62.66v5.2M267.20,65.21h4.0M269.20,62.61v5.2M267.57,65.17h4.0M269.57,62.57v5.2M267.93,65.13h4.0M269.93,62.53v5.2M268.29,65.10h4.0M270.29,62.50v5.2M268.66,65.08h4.0M270.66,62.48v5.2M269.02,65.06h4.0M271.02,62.46v5.2M269.38,65.04h4.0M271.38,62.44v5.2M269.75,65.03h4.0M271.75,62.43v5.2M270.11,65.02h4.0M272.11,62.42v5.2M270.47,65.01h4.0M272.47,62.41v5.2M270.83,65.01h4.0M272.83,62.41v5.2M271.20,65.00h4.0M273.20,62.40v5.2M271.56,65.00h4.0M273.56,62.40v5.2M271.92,65.00h4.0M273.92,62.40v5.2M272.29,65.00h4.0M274.29,62.40v5.2M272.65,65.00h4.0M274.65,62.40v5.2M273.01,65.01h4.0M275.01,62.41v5.2M273.37,65.02h4.0M275.37,62.42v5.2M273.74,65.03h4.0M275.74,62.43v5.2M274.10,65.06h4.0M276.10,62.46v5.2M274.46,65.08h4.0M276.46,62.48v5.2M274.83,65.11h4.0M276.83,62.51v5.2M275.19,65.14h4.0M277.19,62.54v5.2M275.55,65.17h4.0M277.55,62.57v5.2M275.91,65.21h4.0M277.91,62.61v5.2M276.28,65.24h4.0M278.28,62.64v5.2M276.64,65.28h4.0M278.64,62.68v5.2M277.00,65.31h4.0M279.00,62.71v5.2M277.37,65.35h4.0M279.37,62.75v5.2M277.73,65.38h4.0M279.73,62.78v5.2M278.09,65.41h4.0M280.09,62.81v5.2M278.45,65.44h4.0M280.45,62.84v5.2M278.82,65.46h4.0M280.82,62.86v5.2M279.18,65.48h4.0M281.18,62.88v5.2M279.54,65.50h4.0M281.54,62.90v5.2M279.91,65.50h4.0M281.91,62.90v5.2M280.27,65.50h4.0M282.27,62.90v5.2M280.63,65.49h4.0M282.63,62.89v5.2M280.99,65.47h4.0M282.99,62.87v5.2M281.36,65.43h4.0M283.36,62.83v5.2M281.72,65.39h4.0M283.72,62.79v5.2M282.08,65.33h4.0M284.08,62.73v5.2M282.45,65.26h4.0M284.45,62.66v5.2M282.81,65.18h4.0M284.81,62.58v5.2M283.17,65.10h4.0M285.17,62.50v5.2M283.53,65.01h4.0M285.53,62.41v5.2M283.90,64.92h4.0M285.90,62.32v5.2M284.26,64.83h4.0M286.26,62.23v5.2M284.62,64.75h4.0M286.62,62.15v5.2M284.99,64.67h4.0M286.99,62.07v5.2M285.35,64.61h4.0M287.35,62.01v5.2M285.71,64.54h4.0M287.71,61.94v5.2M286.07,64.47h4.0M288.07,61.87v5.2M286.44,64.40h4.0M288.44,61.80v5.2M286.80,64.32h4.0M288.80,61.72v5.2M287.16,64.23h4.0M289.16,61.63v5.2M287.53,64.15h4.0M289.53,61.55v5.2M287.89,64.07h4.0M289.89,61.47v5.2M288.25,63.99h4.0M290.25,61.39v5.2M288.61,63.91h4.0M290.61,61.31v5.2M288.98,63.84h4.0M290.98,61.24v5.2M289.34,63.77h4.0M291.34,61.17v5.2M289.70,63.71h4.0M291.70,61.11v5.2M290.07,63.65h4.0M292.07,61.05v5.2M290.43,63.60h4.0M292.43,61.00v5.2M290.79,63.57h4.0M292.79,60.97v5.2M291.15,63.54h4.0M293.15,60.94v5.2M291.52,63.51h4.0M293.52,60.91v5.2M291.88,63.50h4.0M293.88,60.90v5.2M292.24,63.50h4.0M294.24,60.90v5.2M292.61,63.51h4.0M294.61,60.91v5.2M292.97,63.53h4.0M294.97,60.93v5.2M293.33,63.56h4.0M295.33,60.96v5.2M293.69,63.59h4.0M295.69,60.99v5.2M294.06,63.64h4.0M296.06,61.04v5.2M294.42,63.69h4.0M296.42,61.09v5.2M294.78,63.75h4.0M296.78,61.15v5.2M295.15,63.81h4.0M297.15,61.21v5.2M295.51,63.88h4.0M297.51,61.28v5.2M295.87,63.95h4.0M297.87,61.35v5.2M296.23,64.02h4.0M298.23,61.42v5.2M296.60,64.09h4.0M298.60,61.49v5.2M296.96,64.16h4.0M298.96,61.56v5.2M297.32,64.24h4.0M299.32,61.64v5.2M297.69,64.31h4.0M299.69,61.71v5.2M298.05,64.38h4.0M300.05,61.78v5.2M298.41,64.45h4.0M300.41,61.85v5.2M298.78,64.52h4.0M300.78,61.92v5.2M299.14,64.58h4.0M301.14,61.98v5.2M299.50,64.64h4.0M301.50,62.04v5.2M299.86,64.70h4.0M301.86,62.10v5.2M300.23,64.75h4.0M302.23,62.15v5.2M300.59,64.80h4.0M302.59,62.20v5.2M300.95,64.84h4.0M302.95,62.24v5.2M301.32,64.87h4.0M303.32,62.27v5.2M301.68,64.89h4.0M303.68,62.29v5.2M302.04,64.91h4.0M304.04,62.31v5.2M302.40,64.92h4.0M304.40,62.32v5.2M302.77,64.93h4.0M304.77,62.33v5.2M303.13,64.94h4.0M305.13,62.34v5.2M303.49,64.94h4.0M305.49,62.34v5.2M303.86,64.93h4.0M305.86,62.33v5.2M304.22,64.93h4.0M306.22,62.33v5.2M304.58,64.92h4.0M306.58,62.32v5.2M304.94,64.91h4.0M306.94,62.31v5.2M305.31,64.90h4.0M307.31,62.30v5.2M305.67,64.88h4.0M307.67,62.28v5.2M306.03,64.86h4.0M308.03,62.26v5.2M306.40,64.84h4.0M308.40,62.24v5.2M306.76,64.82h4.0M308.76,62.22v5.2M307.12,64.79h4.0M309.12,62.19v5.2M307.48,64.76h4.0M309.48,62.16v5.2M307.85,64.73h4.0M309.85,62.13v5.2M308.21,64.70h4.0M310.21,62.10v5.2M308.57,64.67h4.0M310.57,62.07v5.2M308.94,64.64h4.0M310.94,62.04v5.2M309.30,64.60h4.0M311.30,62.00v5.2M309.66,64.57h4.0M311.66,61.97v5.2M310.02,64.53h4.0M312.02,61.93v5.2M310.39,64.49h4.0M312.39,61.89v5.2M310.75,64.45h4.0M312.75,61.85v5.2M311.11,64.41h4.0M313.11,61.81v5.2M311.48,64.37h4.0M313.48,61.77v5.2M311.84,64.32h4.0M313.84,61.72v5.2M312.20,64.27h4.0M314.20,61.67v5.2M312.56,64.21h4.0M314.56,61.61v5.2M312.93,64.15h4.0M314.93,61.55v5.2M313.29,64.09h4.0M315.29,61.49v5.2M313.65,64.02h4.0M315.65,61.42v5.2M314.02,63.95h4.0M316.02,61.35v5.2M314.38,63.88h4.0M316.38,61.28v5.2M314.74,63.80h4.0M316.74,61.20v5.2M315.10,63.72h4.0M317.10,61.12v5.2M315.47,63.65h4.0M317.47,61.05v5.2M315.83,63.57h4.0M317.83,60.97v5.2M316.19,63.49h4.0M318.19,60.89v5.2M316.56,63.41h4.0M318.56,60.81v5.2M316.92,63.33h4.0M318.92,60.73v5.2M317.28,63.26h4.0M319.28,60.66v5.2M317.64,63.18h4.0M319.64,60.58v5.2M318.01,63.12h4.0M320.01,60.52v5.2M318.37,63.05h4.0M320.37,60.45v5.2M318.73,63.00h4.0M320.73,60.40v5.2M319.10,62.94h4.0M321.10,60.34v5.2M319.46,62.89h4.0M321.46,60.29v5.2M319.82,62.84h4.0M321.82,60.24v5.2M320.18,62.80h4.0M322.18,60.20v5.2M320.55,62.76h4.0M322.55,60.16v5.2M320.91,62.72h4.0M322.91,60.12v5.2M321.27,62.69h4.0M323.27,60.09v5.2M321.64,62.66h4.0M323.64,60.06v5.2M322.00,62.64h4.0M324.00,60.04v5.2M322.36,62.62h4.0M324.36,60.02v5.2M322.72,62.61h4.0M324.72,60.01v5.2M323.09,62.60h4.0M325.09,60.00v5.2M323.45,62.60h4.0M325.45,60.00v5.2M323.81,62.59h4.0M325.81,59.99v5.2M324.18,62.57h4.0M326.18,59.97v5.2M324.54,62.54h4.0M326.54,59.94v5.2M324.90,62.52h4.0M326.90,59.92v5.2M325.26,62.50h4.0M327.26,59.90v5.2M325.63,62.49h4.0M327.63,59.89v5.2M325.99,62.51h4.0M327.99,59.91v5.2M326.35,62.55h4.0M328.35,59.95v5.2M326.72,62.63h4.0M328.72,60.03v5.2M327.08,62.76h4.0M329.08,60.16v5.2M327.44,62.96h4.0M329.44,60.36v5.2M327.81,63.25h4.0M329.81,60.65v5.2M328.17,63.63h4.0M330.17,61.03v5.2M328.53,64.12h4.0M330.53,61.52v5.2M328.89,64.70h4.0M330.89,62.10v5.2M329.26,65.37h4.0M331.26,62.77v5.2M329.62,66.10h4.0M331.62,63.50v5.2M329.98,66.85h4.0M331.98,64.25v5.2M330.35,67.59h4.0M332.35,64.99v5.2M330.71,68.35h4.0M332.71,65.75v5.2M331.07,69.15h4.0M333.07,66.55v5.2M331.43,69.99h4.0M333.43,67.39v5.2M331.80,70.86h4.0M333.80,68.26v5.2M332.16,71.77h4.0M334.16,69.17v5.2M332.52,72.71h4.0M334.52,70.11v5.2M332.89,73.68h4.0M334.89,71.08v5.2M333.25,74.69h4.0M335.25,72.09v5.2M333.61,75.74h4.0M335.61,73.14v5.2M333.97,76.84h4.0M335.97,74.24v5.2M334.34,78.03h4.0M336.34,75.43v5.2M334.70,79.34h4.0M336.70,76.74v5.2M335.06,80.76h4.0M337.06,78.16v5.2M335.43,82.39h4.0M337.43,79.79v5.2M335.79,84.23h4.0M337.79,81.63v5.2M336.15,86.10h4.0M338.15,83.50v5.2M336.51,87.87h4.0M338.51,85.27v5.2M336.88,89.49h4.0M338.88,86.89v5.2M337.24,90.96h4.0M339.24,88.36v5.2M337.60,92.36h4.0M339.60,89.76v5.2M337.97,93.74h4.0M339.97,91.14v5.2M338.33,95.09h4.0M340.33,92.49v5.2M338.69,96.42h4.0M340.69,93.82v5.2M339.05,97.75h4.0M341.05,95.15v5.2M339.42,99.07h4.0M341.42,96.47v5.2M339.78,100.38h4.0M341.78,97.78v5.2M340.14,101.69h4.0M342.14,99.09v5.2M342.69,90.71h4.0M344.69,88.11v5.2M343.05,89.49h4.0M345.05,86.89v5.2M343.41,88.27h4.0M345.41,85.67v5.2M343.78,87.04h4.0M345.78,84.44v5.2M344.14,85.79h4.0M346.14,83.19v5.2M344.50,84.49h4.0M346.50,81.89v5.2M344.87,83.11h4.0M346.87,80.51v5.2M345.23,81.64h4.0M347.23,79.04v5.2M345.59,80.16h4.0M347.59,77.56v5.2M345.96,78.76h4.0M347.96,76.16v5.2M346.32,77.43h4.0M348.32,74.83v5.2M346.68,76.16h4.0M348.68,73.56v5.2M347.05,74.90h4.0M349.05,72.30v5.2M347.41,73.65h4.0M349.41,71.05v5.2M347.77,72.43h4.0M349.77,69.83v5.2M348.14,71.21h4.0M350.14,68.61v5.2M348.50,70.02h4.0M350.50,67.42v5.2M348.86,68.86h4.0M350.86,66.26v5.2M349.23,67.73h4.0M351.23,65.13v5.2M349.59,66.63h4.0M351.59,64.03v5.2M349.95,65.54h4.0M351.95,62.94v5.2M350.32,64.50h4.0M352.32,61.90v5.2M350.68,63.53h4.0M352.68,60.93v5.2M351.04,62.65h4.0M353.04,60.05v5.2M351.41,61.87h4.0M353.41,59.27v5.2M351.77,61.20h4.0M353.77,58.60v5.2M352.13,60.62h4.0M354.13,58.02v5.2M352.50,60.11h4.0M354.50,57.51v5.2M352.86,59.66h4.0M354.86,57.06v5.2M353.22,59.25h4.0M355.22,56.65v5.2M353.59,58.88h4.0M355.59,56.28v5.2M353.95,58.53h4.0M355.95,55.93v5.2M354.31,58.19h4.0M356.31,55.59v5.2M354.68,57.87h4.0M356.68,55.27v5.2M355.04,57.59h4.0M357.04,54.99v5.2M355.40,57.36h4.0M357.40,54.76v5.2M355.77,57.19h4.0M357.77,54.59v5.2M356.13,57.07h4.0M358.13,54.47v5.2M356.49,57.00h4.0M358.49,54.40v5.2M356.86,56.99h4.0M358.86,54.39v5.2M357.22,57.02h4.0M359.22,54.42v5.2M357.58,57.10h4.0M359.58,54.50v5.2M357.95,57.20h4.0M359.95,54.60v5.2M358.31,57.33h4.0M360.31,54.73v5.2M358.67,57.47h4.0M360.67,54.87v5.2M359.04,57.62h4.0M361.04,55.02v5.2M359.40,57.80h4.0M361.40,55.20v5.2M359.76,58.05h4.0M361.76,55.45v5.2M360.13,58.31h4.0M362.13,55.71v5.2M360.49,58.55h4.0M362.49,55.95v5.2M360.85,58.75h4.0M362.85,56.15v5.2M361.22,58.91h4.0M363.22,56.31v5.2M361.58,59.05h4.0M363.58,56.45v5.2M361.94,59.20h4.0M363.94,56.60v5.2M362.31,59.35h4.0M364.31,56.75v5.2M362.67,59.50h4.0M364.67,56.90v5.2M363.03,59.63h4.0M365.03,57.03v5.2M363.40,59.75h4.0M365.40,57.15v5.2M363.76,59.87h4.0M365.76,57.27v5.2M364.12,59.96h4.0M366.12,57.36v5.2M364.49,60.05h4.0M366.49,57.45v5.2M364.85,60.12h4.0M366.85,57.52v5.2M365.21,60.17h4.0M367.21,57.57v5.2M365.58,60.20h4.0M367.58,57.60v5.2M365.94,60.21h4.0M367.94,57.61v5.2M366.30,60.21h4.0M368.30,57.61v5.2M366.67,60.20h4.0M368.67,57.60v5.2M367.03,60.18h4.0M369.03,57.58v5.2M367.39,60.15h4.0M369.39,57.55v5.2M367.76,60.12h4.0M369.76,57.52v5.2M368.12,60.08h4.0M370.12,57.48v5.2M368.48,60.03h4.0M370.48,57.43v5.2M368.85,59.97h4.0M370.85,57.37v5.2M369.21,59.92h4.0M371.21,57.32v5.2M369.57,59.86h4.0M371.57,57.26v5.2M369.94,59.80h4.0M371.94,57.20v5.2M370.30,59.73h4.0M372.30,57.13v5.2M370.67,59.67h4.0M372.67,57.07v5.2M371.03,59.60h4.0M373.03,57.00v5.2M371.39,59.54h4.0M373.39,56.94v5.2M371.76,59.47h4.0M373.76,56.87v5.2M372.12,59.39h4.0M374.12,56.79v5.2M372.48,59.31h4.0M374.48,56.71v5.2M372.85,59.21h4.0M374.85,56.61v5.2M373.21,59.11h4.0M375.21,56.51v5.2M373.57,59.01h4.0M375.57,56.41v5.2M373.94,58.90h4.0M375.94,56.30v5.2M374.30,58.79h4.0M376.30,56.19v5.2M374.66,58.68h4.0M376.66,56.08v5.2M375.03,58.57h4.0M377.03,55.97v5.2M375.39,58.47h4.0M377.39,55.87v5.2M375.75,58.37h4.0M377.75,55.77v5.2M376.12,58.27h4.0M378.12,55.67v5.2M376.48,58.18h4.0M378.48,55.58v5.2M376.84,58.09h4.0M378.84,55.49v5.2M377.21,58.01h4.0M379.21,55.41v5.2M377.57,57.95h4.0M379.57,55.35v5.2M377.93,57.89h4.0M379.93,55.29v5.2M378.30,57.85h4.0M380.30,55.25v5.2M378.66,57.81h4.0M380.66,55.21v5.2M379.02,57.80h4.0M381.02,55.20v5.2M379.39,57.80h4.0M381.39,55.20v5.2M379.75,57.82h4.0M381.75,55.22v5.2M380.11,57.85h4.0M382.11,55.25v5.2M380.48,57.89h4.0M382.48,55.29v5.2M380.84,57.95h4.0M382.84,55.35v5.2M381.20,58.01h4.0M383.20,55.41v5.2M381.57,58.08h4.0M383.57,55.48v5.2M381.93,58.17h4.0M383.93,55.57v5.2M382.29,58.25h4.0M384.29,55.65v5.2M382.66,58.34h4.0M384.66,55.74v5.2M383.02,58.44h4.0M385.02,55.84v5.2M383.38,58.53h4.0M385.38,55.93v5.2M383.75,58.63h4.0M385.75,56.03v5.2M384.11,58.72h4.0M386.11,56.12v5.2M384.47,58.81h4.0M386.47,56.21v5.2M384.84,58.90h4.0M386.84,56.30v5.2M385.20,58.98h4.0M387.20,56.38v5.2M385.56,59.05h4.0M387.56,56.45v5.2M385.93,59.12h4.0M387.93,56.52v5.2M386.29,59.18h4.0M388.29,56.58v5.2M386.65,59.24h4.0M388.65,56.64v5.2M387.02,59.29h4.0M389.02,56.69v5.2M387.38,59.35h4.0M389.38,56.75v5.2M387.74,59.40h4.0M389.74,56.80v5.2M388.11,59.45h4.0M390.11,56.85v5.2M388.47,59.51h4.0M390.47,56.91v5.2M388.83,59.56h4.0M390.83,56.96v5.2M389.20,59.61h4.0M391.20,57.01v5.2M389.56,59.66h4.0M391.56,57.06v5.2M389.92,59.71h4.0M391.92,57.11v5.2M390.29,59.76h4.0M392.29,57.16v5.2M390.65,59.81h4.0M392.65,57.21v5.2M391.01,59.86h4.0M393.01,57.26v5.2M391.38,59.90h4.0M393.38,57.30v5.2M391.74,59.95h4.0M393.74,57.35v5.2M392.10,59.99h4.0M394.10,57.39v5.2M392.47,60.03h4.0M394.47,57.43v5.2M392.83,60.07h4.0M394.83,57.47v5.2M393.19,60.10h4.0M395.19,57.50v5.2M393.56,60.13h4.0M395.56,57.53v5.2M393.92,60.16h4.0M395.92,57.56v5.2M394.28,60.18h4.0M396.28,57.58v5.2M394.65,60.19h4.0M396.65,57.59v5.2M395.01,60.20h4.0M397.01,57.60v5.2M395.37,60.20h4.0M397.37,57.60v5.2M395.74,60.18h4.0M397.74,57.58v5.2M396.10,60.15h4.0M398.10,57.55v5.2M396.46,60.10h4.0M398.46,57.50v5.2M396.83,60.03h4.0M398.83,57.43v5.2M397.19,59.93h4.0M399.19,57.33v5.2M397.55,59.80h4.0M399.55,57.20v5.2M397.92,59.66h4.0M399.92,57.06v5.2M398.28,59.50h4.0M400.28,56.90v5.2M398.64,59.35h4.0M400.64,56.75v5.2M399.01,59.21h4.0M401.01,56.61v5.2M399.37,59.09h4.0M401.37,56.49v5.2M399.74,58.99h4.0M401.74,56.39v5.2M400.10,58.89h4.0M402.10,56.29v5.2M400.46,58.78h4.0M402.46,56.18v5.2M400.83,58.66h4.0M402.83,56.06v5.2M401.19,58.54h4.0M403.19,55.94v5.2M401.55,58.42h4.0M403.55,55.82v5.2M401.92,58.30h4.0M403.92,55.70v5.2M402.28,58.18h4.0M404.28,55.58v5.2M402.64,58.07h4.0M404.64,55.47v5.2M403.01,57.95h4.0M405.01,55.35v5.2M403.37,57.85h4.0M405.37,55.25v5.2M403.73,57.74h4.0M405.73,55.14v5.2M404.10,57.65h4.0M406.10,55.05v5.2M404.46,57.56h4.0M406.46,54.96v5.2M404.82,57.49h4.0M406.82,54.89v5.2M405.19,57.42h4.0M407.19,54.82v5.2M405.55,57.37h4.0M407.55,54.77v5.2M405.91,57.33h4.0M407.91,54.73v5.2M406.28,57.30h4.0M408.28,54.70v5.2M406.64,57.29h4.0M408.64,54.69v5.2M407.00,57.30h4.0M409.00,54.70v5.2M407.37,57.33h4.0M409.37,54.73v5.2M407.73,57.37h4.0M409.73,54.77v5.2M408.09,57.42h4.0M410.09,54.82v5.2M408.46,57.48h4.0M410.46,54.88v5.2M408.82,57.55h4.0M410.82,54.95v5.2M409.18,57.63h4.0M411.18,55.03v5.2M409.55,57.71h4.0M411.55,55.11v5.2M409.91,57.80h4.0M411.91,55.20v5.2M410.27,57.89h4.0M412.27,55.29v5.2M410.64,57.98h4.0M412.64,55.38v5.2M411.00,58.07h4.0M413.00,55.47v5.2M411.36,58.16h4.0M413.36,55.56v5.2M411.73,58.24h4.0M413.73,55.64v5.2M412.09,58.32h4.0M414.09,55.72v5.2M412.45,58.40h4.0M414.45,55.80v5.2M412.82,58.47h4.0M414.82,55.87v5.2M413.18,58.53h4.0M415.18,55.93v5.2M413.54,58.60h4.0M415.54,56.00v5.2M413.91,58.68h4.0M415.91,56.08v5.2M414.27,58.75h4.0M416.27,56.15v5.2M414.63,58.84h4.0M416.63,56.24v5.2M415.00,58.92h4.0M417.00,56.32v5.2M415.36,59.00h4.0M417.36,56.40v5.2M415.72,59.09h4.0M417.72,56.49v5.2M416.09,59.17h4.0M418.09,56.57v5.2M416.45,59.26h4.0M418.45,56.66v5.2M416.81,59.34h4.0M418.81,56.74v5.2M417.18,59.42h4.0M419.18,56.82v5.2M417.54,59.50h4.0M419.54,56.90v5.2M417.90,59.58h4.0M419.90,56.98v5.2M418.27,59.65h4.0M420.27,57.05v5.2M418.63,59.72h4.0M420.63,57.12v5.2M418.99,59.78h4.0M420.99,57.18v5.2M419.36,59.84h4.0M421.36,57.24v5.2M419.72,59.89h4.0M421.72,57.29v5.2M420.08,59.93h4.0M422.08,57.33v5.2M420.45,59.97h4.0M422.45,57.37v5.2M420.81,60.00h4.0M422.81,57.40v5.2M421.17,60.01h4.0M423.17,57.41v5.2M421.54,60.01h4.0M423.54,57.41v5.2M421.90,60.00h4.0M423.90,57.40v5.2M422.26,59.97h4.0M424.26,57.37v5.2M422.63,59.92h4.0M424.63,57.32v5.2M422.99,59.85h4.0M424.99,57.25v5.2M423.35,59.77h4.0M425.35,57.17v5.2M423.72,59.66h4.0M425.72,57.06v5.2M424.08,59.54h4.0M426.08,56.94v5.2M424.44,59.40h4.0M426.44,56.80v5.2M424.81,59.25h4.0M426.81,56.65v5.2M425.17,59.08h4.0M427.17,56.48v5.2M425.53,58.91h4.0M427.53,56.31v5.2M425.90,58.73h4.0M427.90,56.13v5.2M426.26,58.55h4.0M428.26,55.95v5.2M426.62,58.37h4.0M428.62,55.77v5.2M426.99,58.19h4.0M428.99,55.59v5.2M427.35,58.02h4.0M429.35,55.42v5.2M427.71,57.86h4.0M429.71,55.26v5.2M428.08,57.70h4.0M430.08,55.10v5.2M428.44,57.56h4.0M430.44,54.96v5.2M428.81,57.42h4.0M430.81,54.82v5.2M429.17,57.29h4.0M431.17,54.69v5.2M429.53,57.15h4.0M431.53,54.55v5.2M429.90,57.01h4.0M431.90,54.41v5.2M430.26,56.87h4.0M432.26,54.27v5.2M430.62,56.74h4.0M432.62,54.14v5.2M430.99,56.60h4.0M432.99,54.00v5.2M431.35,56.46h4.0M433.35,53.86v5.2M431.71,56.32h4.0M433.71,53.72v5.2M432.08,56.18h4.0M434.08,53.58v5.2M432.44,56.04h4.0M434.44,53.44v5.2M432.80,55.90h4.0M434.80,53.30v5.2M433.17,55.76h4.0M435.17,53.16v5.2M433.53,55.63h4.0M435.53,53.03v5.2M433.89,55.49h4.0M435.89,52.89v5.2M434.26,55.36h4.0M436.26,52.76v5.2M434.62,55.23h4.0M436.62,52.63v5.2M434.98,55.09h4.0M436.98,52.49v5.2M435.35,54.97h4.0M437.35,52.37v5.2M435.71,54.84h4.0M437.71,52.24v5.2M436.07,54.72h4.0M438.07,52.12v5.2M436.44,54.60h4.0M438.44,52.00v5.2M436.80,54.48h4.0M438.80,51.88v5.2M437.16,54.37h4.0M439.16,51.77v5.2M437.53,54.26h4.0M439.53,51.66v5.2M437.89,54.17h4.0M439.89,51.57v5.2M438.25,54.08h4.0M440.25,51.48v5.2M438.62,54.00h4.0M440.62,51.40v5.2M438.98,53.92h4.0M440.98,51.32v5.2M439.34,53.86h4.0M441.34,51.26v5.2M439.71,53.80h4.0M441.71,51.20v5.2M440.07,53.74h4.0M442.07,51.14v5.2M440.43,53.69h4.0M442.43,51.09v5.2M440.80,53.64h4.0M442.80,51.04v5.2M441.16,53.59h4.0M443.16,50.99v5.2M441.52,53.54h4.0M443.52,50.94v5.2M441.89,53.49h4.0M443.89,50.89v5.2M442.25,53.43h4.0M444.25,50.83v5.2M442.61,53.36h4.0M444.61,50.76v5.2M442.98,53.28h4.0M444.98,50.68v5.2M443.34,53.20h4.0M445.34,50.60v5.2M443.70,53.11h4.0M445.70,50.51v5.2M444.07,53.01h4.0M446.07,50.41v5.2M444.43,52.90h4.0M446.43,50.30v5.2M444.79,52.79h4.0M446.79,50.19v5.2M445.16,52.67h4.0M447.16,50.07v5.2M445.52,52.54h4.0M447.52,49.94v5.2M445.88,52.42h4.0M447.88,49.82v5.2M446.25,52.29h4.0M448.25,49.69v5.2M446.61,52.15h4.0M448.61,49.55v5.2M446.97,52.02h4.0M448.97,49.42v5.2M447.34,51.89h4.0M449.34,49.29v5.2M447.70,51.75h4.0M449.70,49.15v5.2M448.06,51.61h4.0M450.06,49.01v5.2M448.43,51.47h4.0M450.43,48.87v5.2M448.79,51.33h4.0M450.79,48.73v5.2M449.15,51.19h4.0M451.15,48.59v5.2M449.52,51.05h4.0M451.52,48.45v5.2M449.88,50.91h4.0M451.88,48.31v5.2M450.24,50.78h4.0M452.24,48.18v5.2M450.61,50.64h4.0M452.61,48.04v5.2M450.97,50.50h4.0M452.97,47.90v5.2M451.33,50.37h4.0M453.33,47.77v5.2M451.70,50.24h4.0M453.70,47.64v5.2M452.06,50.11h4.0M454.06,47.51v5.2M452.42,49.98h4.0M454.42,47.38v5.2M452.79,49.87h4.0M454.79,47.27v5.2M453.15,49.76h4.0M455.15,47.16v5.2M453.51,49.66h4.0M455.51,47.06v5.2M453.88,49.59h4.0M455.88,46.99v5.2M454.24,49.54h4.0M456.24,46.94v5.2M454.60,49.54h4.0M456.60,46.94v5.2M454.97,49.57h4.0M456.97,46.97v5.2M455.33,49.57h4.0M457.33,46.97v5.2M455.69,49.53h4.0M457.69,46.93v5.2M456.06,49.45h4.0M458.06,46.85v5.2M456.42,49.35h4.0M458.42,46.75v5.2M456.78,49.24h4.0M458.78,46.64v5.2M457.15,49.11h4.0M459.15,46.51v5.2M457.51,48.98h4.0M459.51,46.38v5.2M457.88,48.83h4.0M459.88,46.23v5.2M458.24,48.69h4.0M460.24,46.09v5.2M458.60,48.54h4.0M460.60,45.94v5.2M458.97,48.38h4.0M460.97,45.78v5.2M459.33,48.23h4.0M461.33,45.63v5.2M459.69,48.08h4.0M461.69,45.48v5.2M460.06,47.92h4.0M462.06,45.32v5.2M460.42,47.76h4.0M462.42,45.16v5.2M460.78,47.61h4.0M462.78,45.01v5.2M461.15,47.46h4.0M463.15,44.86v5.2M461.51,47.31h4.0M463.51,44.71v5.2M461.87,47.16h4.0M463.87,44.56v5.2M462.24,47.01h4.0M464.24,44.41v5.2M462.60,46.87h4.0M464.60,44.27v5.2M462.96,46.73h4.0M464.96,44.13v5.2M463.33,46.59h4.0M465.33,43.99v5.2M463.69,46.46h4.0M465.69,43.86v5.2M464.05,46.34h4.0M466.05,43.74v5.2M464.42,46.23h4.0M466.42,43.63v5.2M464.78,46.12h4.0M466.78,43.52v5.2M465.14,46.03h4.0M467.14,43.43v5.2M465.51,45.96h4.0M467.51,43.36v5.2M465.87,45.90h4.0M467.87,43.30v5.2M466.23,45.85h4.0M468.23,43.25v5.2M466.60,45.82h4.0M468.60,43.22v5.2M466.96,45.80h4.0M468.96,43.20v5.2M467.32,45.79h4.0M469.32,43.19v5.2M467.69,45.80h4.0M469.69,43.20v5.2M468.05,45.83h4.0M470.05,43.23v5.2M468.41,45.88h4.0M470.41,43.28v5.2M468.78,45.95h4.0M470.78,43.35v5.2M469.14,46.04h4.0M471.14,43.44v5.2M469.50,46.16h4.0M471.50,43.56v5.2M469.87,46.30h4.0M471.87,43.70v5.2M470.23,46.47h4.0M472.23,43.87v5.2M470.59,46.65h4.0M472.59,44.05v5.2M470.96,46.87h4.0M472.96,44.27v5.2M471.32,47.13h4.0M473.32,44.53v5.2M471.68,47.44h4.0M473.68,44.84v5.2M472.05,47.81h4.0M474.05,45.21v5.2M472.41,48.22h4.0M474.41,45.62v5.2M472.77,48.69h4.0M474.77,46.09v5.2M473.14,49.20h4.0M475.14,46.60v5.2M473.50,49.73h4.0M475.50,47.13v5.2M473.86,50.29h4.0M475.86,47.69v5.2M474.23,50.85h4.0M476.23,48.25v5.2M474.59,51.41h4.0M476.59,48.81v5.2M474.95,51.97h4.0M476.95,49.37v5.2M475.32,52.57h4.0M477.32,49.97v5.2M475.68,53.20h4.0M477.68,50.60v5.2M476.04,53.88h4.0M478.04,51.28v5.2M476.41,54.62h4.0M478.41,52.02v5.2M476.77,55.45h4.0M478.77,52.85v5.2M477.13,56.36h4.0M479.13,53.76v5.2M477.50,57.39h4.0M479.50,54.79v5.2M477.86,58.56h4.0M479.86,55.96v5.2M478.22,59.87h4.0M480.22,57.27v5.2M478.59,61.28h4.0M480.59,58.68v5.2M478.95,62.78h4.0M480.95,60.18v5.2M479.31,64.34h4.0M481.31,61.74v5.2M479.68,65.93h4.0M481.68,63.33v5.2M480.04,67.54h4.0M482.04,64.94v5.2M480.40,69.12h4.0M482.40,66.52v5.2M480.77,70.66h4.0M482.77,68.06v5.2M481.13,72.13h4.0M483.13,69.53v5.2M481.49,73.57h4.0M483.49,70.97v5.2M481.86,75.01h4.0M483.86,72.41v5.2M482.22,76.44h4.0M484.22,73.84v5.2M482.58,77.87h4.0M484.58,75.27v5.2M482.95,79.30h4.0M484.95,76.70v5.2M483.31,80.74h4.0M485.31,78.14v5.2M483.67,82.21h4.0M485.67,79.61v5.2M484.04,83.68h4.0M486.04,81.08v5.2M484.40,85.17h4.0M486.40,82.57v5.2M484.76,86.67h4.0M486.76,84.07v5.2M485.13,88.18h4.0M487.13,85.58v5.2M488.75,74.44h4.0M490.75,71.84v5.2M489.12,73.40h4.0M491.12,70.80v5.2M489.48,72.37h4.0M491.48,69.77v5.2M489.84,71.34h4.0M491.84,68.74v5.2M490.20,70.30h4.0M492.20,67.70v5.2M490.56,69.25h4.0M492.56,66.65v5.2M490.93,68.19h4.0M492.93,65.59v5.2M491.29,67.11h4.0M493.29,64.51v5.2M491.65,66.01h4.0M493.65,63.41v5.2M492.01,64.88h4.0M494.01,62.28v5.2M492.38,63.68h4.0M494.38,61.08v5.2M492.74,62.40h4.0M494.74,59.80v5.2M493.10,61.05h4.0M495.10,58.45v5.2M493.46,59.67h4.0M495.46,57.07v5.2M493.82,58.29h4.0M495.82,55.69v5.2M494.19,56.94h4.0M496.19,54.34v5.2M494.55,55.64h4.0M496.55,53.04v5.2M494.91,54.43h4.0M496.91,51.83v5.2M495.27,53.35h4.0M497.27,50.75v5.2M495.63,52.41h4.0M497.63,49.81v5.2M496.00,51.57h4.0M498.00,48.97v5.2M496.36,50.83h4.0M498.36,48.23v5.2M496.72,50.18h4.0M498.72,47.58v5.2M497.08,49.60h4.0M499.08,47.00v5.2M497.44,49.09h4.0M499.44,46.49v5.2M497.81,48.62h4.0M499.81,46.02v5.2M498.17,48.18h4.0M500.17,45.58v5.2M498.53,47.76h4.0M500.53,45.16v5.2M498.89,47.37h4.0M500.89,44.77v5.2M499.26,47.00h4.0M501.26,44.40v5.2M499.62,46.69h4.0M501.62,44.09v5.2M499.98,46.42h4.0M501.98,43.82v5.2M500.34,46.21h4.0M502.34,43.61v5.2M500.70,46.04h4.0M502.70,43.44v5.2M501.07,45.90h4.0M503.07,43.30v5.2M501.43,45.79h4.0M503.43,43.19v5.2M501.79,45.70h4.0M503.79,43.10v5.2M502.15,45.64h4.0M504.15,43.04v5.2M502.51,45.60h4.0M504.51,43.00v5.2M502.88,45.59h4.0M504.88,42.99v5.2M503.24,45.59h4.0M505.24,42.99v5.2M503.60,45.60h4.0M505.60,43.00v5.2M503.96,45.62h4.0M505.96,43.02v5.2M504.33,45.64h4.0M506.33,43.04v5.2M504.69,45.66h4.0M506.69,43.06v5.2M505.05,45.69h4.0M507.05,43.09v5.2M505.41,45.71h4.0M507.41,43.11v5.2M505.77,45.73h4.0M507.77,43.13v5.2M506.14,45.75h4.0M508.14,43.15v5.2M506.50,45.76h4.0M508.50,43.16v5.2M506.86,45.75h4.0M508.86,43.15v5.2M507.22,45.74h4.0M509.22,43.14v5.2M507.58,45.71h4.0M509.58,43.11v5.2M507.95,45.67h4.0M509.95,43.07v5.2M508.31,45.61h4.0M510.31,43.01v5.2M508.67,45.55h4.0M510.67,42.95v5.2M509.03,45.48h4.0M511.03,42.88v5.2M509.39,45.40h4.0M511.39,42.80v5.2M509.76,45.32h4.0M511.76,42.72v5.2M510.12,45.23h4.0M512.12,42.63v5.2M510.48,45.13h4.0M512.48,42.53v5.2M510.84,45.04h4.0M512.84,42.44v5.2M511.21,44.94h4.0M513.21,42.34v5.2M511.57,44.84h4.0M513.57,42.24v5.2M511.93,44.74h4.0M513.93,42.14v5.2M512.29,44.64h4.0M514.29,42.04v5.2M512.65,44.54h4.0M514.65,41.94v5.2M513.02,44.45h4.0M515.02,41.85v5.2M513.38,44.35h4.0M515.38,41.75v5.2M513.74,44.27h4.0M515.74,41.67v5.2M514.10,44.17h4.0M516.10,41.57v5.2M514.46,44.08h4.0M516.46,41.48v5.2M514.83,43.98h4.0M516.83,41.38v5.2M515.19,43.89h4.0M517.19,41.29v5.2M515.55,43.79h4.0M517.55,41.19v5.2M515.91,43.69h4.0M517.91,41.09v5.2M516.28,43.59h4.0M518.28,40.99v5.2M516.64,43.49h4.0M518.64,40.89v5.2M517.00,43.39h4.0M519.00,40.79v5.2M517.36,43.29h4.0M519.36,40.69v5.2M517.72,43.19h4.0M519.72,40.59v5.2M518.09,43.10h4.0M520.09,40.50v5.2M518.45,43.01h4.0M520.45,40.41v5.2M518.81,42.92h4.0M520.81,40.32v5.2M519.17,42.84h4.0M521.17,40.24v5.2M519.53,42.76h4.0M521.53,40.16v5.2M519.90,42.69h4.0M521.90,40.09v5.2M520.26,42.62h4.0M522.26,40.02v5.2M520.62,42.56h4.0M522.62,39.96v5.2M520.98,42.50h4.0M522.98,39.90v5.2M521.35,42.46h4.0M523.35,39.86v5.2M521.71,42.42h4.0M523.71,39.82v5.2M522.07,42.39h4.0M524.07,39.79v5.2M522.43,42.36h4.0M524.43,39.76v5.2M522.79,42.34h4.0M524.79,39.74v5.2M523.16,42.33h4.0M525.16,39.73v5.2M523.52,42.32h4.0M525.52,39.72v5.2M523.88,42.32h4.0M525.88,39.72v5.2M524.24,42.31h4.0M526.24,39.71v5.2M524.60,42.31h4.0M526.60,39.71v5.2M524.97,42.31h4.0M526.97,39.71v5.2M525.33,42.31h4.0M527.33,39.71v5.2M525.69,42.31h4.0M527.69,39.71v5.2M526.05,42.31h4.0M528.05,39.71v5.2M526.41,42.31h4.0M528.41,39.71v5.2M526.78,42.30h4.0M528.78,39.70v5.2M527.14,42.28h4.0M529.14,39.68v5.2M527.50,42.27h4.0M529.50,39.67v5.2M527.86,42.25h4.0M529.86,39.65v5.2M528.23,42.22h4.0M530.23,39.62v5.2M528.59,42.18h4.0M530.59,39.58v5.2M528.95,42.14h4.0M530.95,39.54v5.2M529.31,42.09h4.0M531.31,39.49v5.2M529.67,42.04h4.0M531.67,39.44v5.2M530.04,41.99h4.0M532.04,39.39v5.2M530.40,41.93h4.0M532.40,39.33v5.2M530.76,41.87h4.0M532.76,39.27v5.2M531.12,41.81h4.0M533.12,39.21v5.2M531.48,41.75h4.0M533.48,39.15v5.2M531.85,41.69h4.0M533.85,39.09v5.2M532.21,41.62h4.0M534.21,39.02v5.2M532.57,41.55h4.0M534.57,38.95v5.2M532.93,41.49h4.0M534.93,38.89v5.2M533.30,41.42h4.0M535.30,38.82v5.2M533.66,41.36h4.0M535.66,38.76v5.2M534.02,41.29h4.0M536.02,38.69v5.2M534.38,41.23h4.0M536.38,38.63v5.2M534.74,41.17h4.0M536.74,38.57v5.2M535.11,41.12h4.0M537.11,38.52v5.2M535.47,41.06h4.0M537.47,38.46v5.2M535.83,41.01h4.0M537.83,38.41v5.2M536.19,40.96h4.0M538.19,38.36v5.2M536.55,40.91h4.0M538.55,38.31v5.2M536.92,40.87h4.0M538.92,38.27v5.2M537.28,40.82h4.0M539.28,38.22v5.2M537.64,40.78h4.0M539.64,38.18v5.2M538.00,40.74h4.0M540.00,38.14v5.2M538.36,40.70h4.0M540.36,38.10v5.2M538.73,40.66h4.0M540.73,38.06v5.2M539.09,40.62h4.0M541.09,38.02v5.2M539.45,40.58h4.0M541.45,37.98v5.2M539.81,40.54h4.0M541.81,37.94v5.2M540.18,40.50h4.0M542.18,37.90v5.2M540.54,40.46h4.0M542.54,37.86v5.2M540.90,40.43h4.0M542.90,37.83v5.2M541.26,40.39h4.0M543.26,37.79v5.2M541.62,40.35h4.0M543.62,37.75v5.2M541.99,40.32h4.0M543.99,37.72v5.2M542.35,40.29h4.0M544.35,37.69v5.2M542.71,40.25h4.0M544.71,37.65v5.2M543.07,40.22h4.0M545.07,37.62v5.2M543.43,40.19h4.0M545.43,37.59v5.2M543.80,40.16h4.0M545.80,37.56v5.2M544.16,40.12h4.0M546.16,37.52v5.2M544.52,40.09h4.0M546.52,37.49v5.2M544.88,40.06h4.0M546.88,37.46v5.2M545.25,40.03h4.0M547.25,37.43v5.2M545.61,40.01h4.0M547.61,37.41v5.2M545.97,40.00h4.0M547.97,37.40v5.2M546.33,40.00h4.0M548.33,37.40v5.2M546.69,40.00h4.0M548.69,37.40v5.2M547.06,40.00h4.0M549.06,37.40v5.2M547.42,40.00h4.0M549.42,37.40v5.2M547.78,40.00h4.0M549.78,37.40v5.2M548.14,40.01h4.0M550.14,37.41v5.2M548.50,40.02h4.0M550.50,37.42v5.2M548.87,40.03h4.0M550.87,37.43v5.2M549.23,40.04h4.0M551.23,37.44v5.2M549.59,40.05h4.0M551.59,37.45v5.2M549.95,40.06h4.0M551.95,37.46v5.2M550.32,40.07h4.0M552.32,37.47v5.2M550.68,40.09h4.0M552.68,37.49v5.2M551.04,40.10h4.0M553.04,37.50v5.2M551.40,40.11h4.0M553.40,37.51v5.2M551.76,40.12h4.0M553.76,37.52v5.2M552.13,40.14h4.0M554.13,37.54v5.2M552.49,40.15h4.0M554.49,37.55v5.2M552.85,40.17h4.0M554.85,37.57v5.2M553.21,40.18h4.0M555.21,37.58v5.2M553.57,40.19h4.0M555.57,37.59v5.2M553.94,40.21h4.0M555.94,37.61v5.2M554.30,40.22h4.0M556.30,37.62v5.2M554.66,40.23h4.0M556.66,37.63v5.2M555.02,40.24h4.0M557.02,37.64v5.2M555.38,40.26h4.0M557.38,37.66v5.2M555.75,40.27h4.0M557.75,37.67v5.2M556.11,40.28h4.0M558.11,37.68v5.2M556.47,40.29h4.0M558.47,37.69v5.2M556.83,40.30h4.0M558.83,37.70v5.2M557.20,40.31h4.0M559.20,37.71v5.2M557.56,40.32h4.0M559.56,37.72v5.2M557.92,40.34h4.0M559.92,37.74v5.2M558.28,40.35h4.0M560.28,37.75v5.2M558.64,40.37h4.0M560.64,37.77v5.2M559.01,40.39h4.0M561.01,37.79v5.2M559.37,40.40h4.0M561.37,37.80v5.2M559.73,40.42h4.0M561.73,37.82v5.2M560.09,40.44h4.0M562.09,37.84v5.2M560.45,40.45h4.0M562.45,37.85v5.2M560.82,40.47h4.0M562.82,37.87v5.2M561.18,40.49h4.0M563.18,37.89v5.2M561.54,40.50h4.0M563.54,37.90v5.2M561.90,40.52h4.0M563.90,37.92v5.2M562.27,40.53h4.0M564.27,37.93v5.2M562.63,40.54h4.0M564.63,37.94v5.2M562.99,40.55h4.0M564.99,37.95v5.2M563.35,40.56h4.0M565.35,37.96v5.2M563.71,40.56h4.0M565.71,37.96v5.2M564.08,40.56h4.0M566.08,37.96v5.2M564.44,40.56h4.0M566.44,37.96v5.2M564.80,40.56h4.0M566.80,37.96v5.2M565.16,40.55h4.0M567.16,37.95v5.2M565.52,40.54h4.0M567.52,37.94v5.2M565.89,40.52h4.0M567.89,37.92v5.2M566.25,40.50h4.0M568.25,37.90v5.2M566.61,40.47h4.0M568.61,37.87v5.2M566.97,40.43h4.0M568.97,37.83v5.2M567.33,40.38h4.0M569.33,37.78v5.2M567.70,40.33h4.0M569.70,37.73v5.2M568.06,40.27h4.0M570.06,37.67v5.2M568.42,40.21h4.0M570.42,37.61v5.2M568.78,40.14h4.0M570.78,37.54v5.2M569.15,40.07h4.0M571.15,37.47v5.2M569.51,39.99h4.0M571.51,37.39v5.2M569.87,39.92h4.0M571.87,37.32v5.2M570.23,39.83h4.0M572.23,37.23v5.2M570.59,39.75h4.0M572.59,37.15v5.2M570.96,39.67h4.0M572.96,37.07v5.2M571.32,39.58h4.0M573.32,36.98v5.2M571.68,39.50h4.0M573.68,36.90v5.2M572.04,39.42h4.0M574.04,36.82v5.2M572.40,39.34h4.0M574.40,36.74v5.2M572.77,39.26h4.0M574.77,36.66v5.2M573.13,39.19h4.0M575.13,36.59v5.2M573.49,39.13h4.0M575.49,36.53v5.2M573.85,39.08h4.0M575.85,36.48v5.2M574.22,39.02h4.0M576.22,36.42v5.2M574.58,38.96h4.0M576.58,36.36v5.2M574.94,38.90h4.0M576.94,36.30v5.2M575.30,38.84h4.0M577.30,36.24v5.2M575.66,38.78h4.0M577.66,36.18v5.2M576.03,38.73h4.0M578.03,36.13v5.2M576.39,38.67h4.0M578.39,36.07v5.2M576.75,38.63h4.0M578.75,36.03v5.2M577.11,38.59h4.0M579.11,35.99v5.2M577.47,38.56h4.0M579.47,35.96v5.2M577.84,38.54h4.0M579.84,35.94v5.2M578.20,38.53h4.0M580.20,35.93v5.2M578.56,38.54h4.0M580.56,35.94v5.2M578.92,38.56h4.0M580.92,35.96v5.2M579.29,38.60h4.0M581.29,36.00v5.2M579.65,38.65h4.0M581.65,36.05v5.2M580.01,38.72h4.0M582.01,36.12v5.2M580.37,38.81h4.0M582.37,36.21v5.2M580.73,38.91h4.0M582.73,36.31v5.2M581.10,39.02h4.0M583.10,36.42v5.2M581.46,39.14h4.0M583.46,36.54v5.2M581.82,39.27h4.0M583.82,36.67v5.2M582.18,39.41h4.0M584.18,36.81v5.2M582.54,39.55h4.0M584.54,36.95v5.2M582.91,39.70h4.0M584.91,37.10v5.2M583.27,39.85h4.0M585.27,37.25v5.2M583.63,40.00h4.0M585.63,37.40v5.2M583.99,40.15h4.0M585.99,37.55v5.2M584.35,40.29h4.0M586.35,37.69v5.2M584.72,40.43h4.0M586.72,37.83v5.2M585.08,40.57h4.0M587.08,37.97v5.2M585.44,40.71h4.0M587.44,38.11v5.2M585.80,40.85h4.0M587.80,38.25v5.2M586.17,41.00h4.0M588.17,38.40v5.2M586.53,41.16h4.0M588.53,38.56v5.2M586.89,41.31h4.0M588.89,38.71v5.2M587.25,41.47h4.0M589.25,38.87v5.2M587.61,41.62h4.0M589.61,39.02v5.2M587.98,41.78h4.0M589.98,39.18v5.2M588.34,41.93h4.0M590.34,39.33v5.2M588.70,42.08h4.0M590.70,39.48v5.2M589.06,42.23h4.0M591.06,39.63v5.2M589.42,42.38h4.0M591.42,39.78v5.2M589.79,42.51h4.0M591.79,39.91v5.2M590.15,42.65h4.0M592.15,40.05v5.2M590.51,42.77h4.0M592.51,40.17v5.2M590.87,42.89h4.0M592.87,40.29v5.2M591.24,43.01h4.0M593.24,40.41v5.2M591.60,43.13h4.0M593.60,40.53v5.2M591.96,43.25h4.0M593.96,40.65v5.2M592.32,43.37h4.0M594.32,40.77v5.2M592.68,43.48h4.0M594.68,40.88v5.2M593.05,43.59h4.0M595.05,40.99v5.2M593.41,43.70h4.0M595.41,41.10v5.2M593.77,43.79h4.0M595.77,41.19v5.2M594.13,43.88h4.0M596.13,41.28v5.2M594.49,43.96h4.0M596.49,41.36v5.2M594.86,44.03h4.0M596.86,41.43v5.2M595.22,44.09h4.0M597.22,41.49v5.2M595.58,44.14h4.0M597.58,41.54v5.2M595.94,44.18h4.0M597.94,41.58v5.2M596.30,44.21h4.0M598.30,41.61v5.2M596.67,44.22h4.0M598.67,41.62v5.2M597.03,44.22h4.0M599.03,41.62v5.2M597.39,44.21h4.0M599.39,41.61v5.2M597.75,44.18h4.0M599.75,41.58v5.2M598.12,44.15h4.0M600.12,41.55v5.2M598.48,44.12h4.0M600.48,41.52v5.2M598.84,44.08h4.0M600.84,41.48v5.2M599.20,44.03h4.0M601.20,41.43v5.2M599.56,43.99h4.0M601.56,41.39v5.2M599.93,43.94h4.0M601.93,41.34v5.2M600.29,43.90h4.0M602.29,41.30v5.2M600.65,43.86h4.0M602.65,41.26v5.2M601.01,43.83h4.0M603.01,41.23v5.2M601.37,43.80h4.0M603.37,41.20v5.2M601.74,43.78h4.0M603.74,41.18v5.2M602.10,43.77h4.0M604.10,41.17v5.2M602.46,43.76h4.0M604.46,41.16v5.2M602.82,43.77h4.0M604.82,41.17v5.2M603.19,43.79h4.0M605.19,41.19v5.2M603.55,43.81h4.0M605.55,41.21v5.2M603.91,43.84h4.0M605.91,41.24v5.2M604.27,43.88h4.0M606.27,41.28v5.2M604.63,43.91h4.0M606.63,41.31v5.2M605.00,43.95h4.0M607.00,41.35v5.2M605.36,43.99h4.0M607.36,41.39v5.2M605.72,44.03h4.0M607.72,41.43v5.2M606.08,44.08h4.0M608.08,41.48v5.2M606.44,44.13h4.0M608.44,41.53v5.2M606.81,44.18h4.0M608.81,41.58v5.2M607.17,44.23h4.0M609.17,41.63v5.2M607.53,44.29h4.0M609.53,41.69v5.2M607.89,44.35h4.0M609.89,41.75v5.2M608.26,44.42h4.0M610.26,41.82v5.2M608.62,44.49h4.0M610.62,41.89v5.2M608.98,44.57h4.0M610.98,41.97v5.2M609.34,44.65h4.0M611.34,42.05v5.2M609.70,44.74h4.0M611.70,42.14v5.2M610.07,44.83h4.0M612.07,42.23v5.2M610.43,44.94h4.0M612.43,42.34v5.2M610.79,45.05h4.0M612.79,42.45v5.2M611.15,45.17h4.0M613.15,42.57v5.2M611.51,45.30h4.0M613.51,42.70v5.2M611.88,45.45h4.0M613.88,42.85v5.2M612.24,45.61h4.0M614.24,43.01v5.2M612.60,45.78h4.0M614.60,43.18v5.2M612.96,45.97h4.0M614.96,43.37v5.2M613.32,46.16h4.0M615.32,43.56v5.2M613.69,46.37h4.0M615.69,43.77v5.2M614.05,46.60h4.0M616.05,44.00v5.2M614.41,46.84h4.0M616.41,44.24v5.2M614.77,47.10h4.0M616.77,44.50v5.2M615.14,47.38h4.0M617.14,44.78v5.2M615.50,47.67h4.0M617.50,45.07v5.2M615.86,47.98h4.0M617.86,45.38v5.2M616.22,48.31h4.0M618.22,45.71v5.2M616.58,48.66h4.0M618.58,46.06v5.2M616.95,49.02h4.0M618.95,46.42v5.2M617.31,49.41h4.0M619.31,46.81v5.2M617.67,49.82h4.0M619.67,47.22v5.2M618.03,50.24h4.0M620.03,47.64v5.2M618.39,50.69h4.0M620.39,48.09v5.2M618.76,51.16h4.0M620.76,48.56v5.2M619.12,51.68h4.0M621.12,49.08v5.2M619.48,52.22h4.0M621.48,49.62v5.2M619.84,52.80h4.0M621.84,50.20v5.2M620.21,53.42h4.0M622.21,50.82v5.2M620.57,54.07h4.0M622.57,51.47v5.2M620.93,54.77h4.0M622.93,52.17v5.2M621.29,55.52h4.0M623.29,52.92v5.2M621.65,56.30h4.0M623.65,53.70v5.2M622.02,57.13h4.0M624.02,54.53v5.2M622.38,57.99h4.0M624.38,55.39v5.2M622.74,58.92h4.0M624.74,56.32v5.2M623.10,59.93h4.0M625.10,57.33v5.2M623.46,61.01h4.0M625.46,58.41v5.2M623.83,62.15h4.0M625.83,59.55v5.2M624.19,63.34h4.0M626.19,60.74v5.2M624.55,64.58h4.0M626.55,61.98v5.2M624.91,65.85h4.0M626.91,63.25v5.2M625.27,67.13h4.0M627.27,64.53v5.2M625.64,68.42h4.0M627.64,65.82v5.2M626.00,69.72h4.0M628.00,67.12v5.2M626.36,71.09h4.0M628.36,68.49v5.2M626.72,72.56h4.0M628.72,69.96v5.2M627.09,74.09h4.0M629.09,71.49v5.2M627.45,75.63h4.0M629.45,73.03v5.2M627.81,77.11h4.0M629.81,74.51v5.2M628.17,78.50h4.0M630.17,75.90v5.2M628.53,79.79h4.0M630.53,77.19v5.2M628.90,81.04h4.0M630.90,78.44v5.2M629.26,82.27h4.0M631.26,79.67v5.2M629.62,83.47h4.0M631.62,80.87v5.2M629.98,84.66h4.0M631.98,82.06v5.2M630.34,85.85h4.0M632.34,83.25v5.2M630.71,87.03h4.0M632.71,84.43v5.2"/>
<path stroke="#2a2a2a" stroke-width="1.0" fill="none" d="M50.40,263.30h4.6M52.70,261.00v4.6M50.40,280.00h4.6M52.70,277.70v4.6M50.40,284.40h4.6M52.70,282.10v4.6M50.40,288.90h4.6M52.70,286.60v4.6M50.40,296.30h4.6M52.70,294.00v4.6M50.40,303.90h4.6M52.70,301.60v4.6M50.40,314.30h4.6M52.70,312.00v4.6M50.40,322.50h4.6M52.70,320.20v4.6M50.40,331.00h4.6M52.70,328.70v4.6M196.10,72.70h3.6M197.90,70.90v3.6M196.10,90.50h3.6M197.90,88.70v3.6M196.10,96.50h3.6M197.90,94.70v3.6M196.10,101.70h3.6M197.90,99.90v3.6M196.10,107.20h3.6M197.90,105.40v3.6M196.10,112.10h3.6M197.90,110.30v3.6M196.10,119.00h3.6M197.90,117.20v3.6M341.30,37.70h3.6M343.10,35.90v3.6M341.30,55.00h3.6M343.10,53.20v3.6M341.30,58.90h3.6M343.10,57.10v3.6M341.30,62.80h3.6M343.10,61.00v3.6M341.30,66.60h3.6M343.10,64.80v3.6M341.30,70.50h3.6M343.10,68.70v3.6M341.30,74.30h3.6M343.10,72.50v3.6M341.30,79.10h3.6M343.10,77.30v3.6M341.30,84.00h3.6M343.10,82.20v3.6M486.40,36.60h3.6M488.20,34.80v3.6M486.40,39.20h3.6M488.20,37.40v3.6M486.40,41.80h3.6M488.20,40.00v3.6M486.40,44.40h3.6M488.20,42.60v3.6M486.40,47.90h3.6M488.20,46.10v3.6M486.40,51.30h3.6M488.20,49.50v3.6M486.40,56.50h3.6M488.20,54.70v3.6M486.40,64.30h3.6M488.20,62.50v3.6M486.40,69.50h3.6M488.20,67.70v3.6M631.40,67.10h3.6M633.20,65.30v3.6M50.40,263.30h4.6M52.70,261.00v4.6M50.40,280.00h4.6M52.70,277.70v4.6M50.40,284.40h4.6M52.70,282.10v4.6M50.40,288.90h4.6M52.70,286.60v4.6M50.40,296.30h4.6M52.70,294.00v4.6M50.40,303.90h4.6M52.70,301.60v4.6M50.40,314.30h4.6M52.70,312.00v4.6M50.40,322.40h4.6M52.70,320.10v4.6M50.40,330.60h4.6M52.70,328.30v4.6M196.10,72.80h3.6M197.90,71.00v3.6M196.10,90.60h3.6M197.90,88.80v3.6M196.10,97.50h3.6M197.90,95.70v3.6M196.10,102.40h3.6M197.90,100.60v3.6M196.10,107.40h3.6M197.90,105.60v3.6M196.10,112.30h3.6M197.90,110.50v3.6M341.50,37.50h3.6M343.30,35.70v3.6M341.50,55.40h3.6M343.30,53.60v3.6M341.50,65.00h3.6M343.30,63.20v3.6M341.50,75.00h3.6M343.30,73.20v3.6M341.50,85.00h3.6M343.30,83.20v3.6M486.50,37.60h3.6M488.30,35.80v3.6M486.50,45.00h3.6M488.30,43.20v3.6M486.50,52.00h3.6M488.30,50.20v3.6M486.50,60.00h3.6M488.30,58.20v3.6M486.50,67.00h3.6M488.30,65.20v3.6M631.50,67.10h3.6M633.30,65.30v3.6"/>
<text x="43.6" y="26.2" text-anchor="end" font-size="11.4">-2.0</text><text x="43.6" y="61.5" text-anchor="end" font-size="11.4">-2.2</text><text x="43.6" y="96.9" text-anchor="end" font-size="11.4">-2.4</text><text x="43.6" y="132.2" text-anchor="end" font-size="11.4">-2.6</text><text x="43.6" y="167.6" text-anchor="end" font-size="11.4">-2.8</text><text x="43.6" y="202.9" text-anchor="end" font-size="11.4">-3.0</text><text x="43.6" y="238.3" text-anchor="end" font-size="11.4">-3.2</text><text x="43.6" y="273.7" text-anchor="end" font-size="11.4">-3.4</text><text x="43.6" y="309.0" text-anchor="end" font-size="11.4">-3.6</text><text x="43.6" y="344.4" text-anchor="end" font-size="11.4">-3.8</text><text x="56.0" y="375.0" text-anchor="middle" font-size="11.4">22000</text><text x="112.7" y="375.0" text-anchor="middle" font-size="11.4">22050</text><text x="169.4" y="375.0" text-anchor="middle" font-size="11.4">22100</text><text x="226.1" y="375.0" text-anchor="middle" font-size="11.4">22150</text><text x="282.8" y="375.0" text-anchor="middle" font-size="11.4">22200</text><text x="339.6" y="375.0" text-anchor="middle" font-size="11.4">22250</text><text x="396.3" y="375.0" text-anchor="middle" font-size="11.4">22300</text><text x="453.0" y="375.0" text-anchor="middle" font-size="11.4">22350</text><text x="509.7" y="375.0" text-anchor="middle" font-size="11.4">22400</text><text x="566.4" y="375.0" text-anchor="middle" font-size="11.4">22450</text><text x="623.1" y="375.0" text-anchor="middle" font-size="11.4">22500</text><text x="60.5" y="351.7" font-size="11.4">IF 1(I)</text><text x="131.6" y="387.0" text-anchor="middle" font-size="11.4">FREQ MHz</text><text x="205.9" y="351.7" font-size="11.4">IF 2(I)</text><text x="277.0" y="387.0" text-anchor="middle" font-size="11.4">FREQ MHz</text><text x="351.1" y="351.7" font-size="11.4">IF 3(I)</text><text x="422.1" y="387.0" text-anchor="middle" font-size="11.4">FREQ MHz</text><text x="496.4" y="351.7" font-size="11.4">IF 4(I)</text><text x="567.5" y="387.0" text-anchor="middle" font-size="11.4">FREQ MHz</text><text x="52.8" y="398.3" font-size="11.4">Scalar averaged cross-power spectrum</text><text x="283.8" y="398.3" font-size="11.4">Several baselines averaged</text><text x="0" y="0" transform="translate(18.8,179.7) rotate(-90)" text-anchor="middle" font-size="11.4">Log10(Amp) Jy</text>
</svg></body></html>
